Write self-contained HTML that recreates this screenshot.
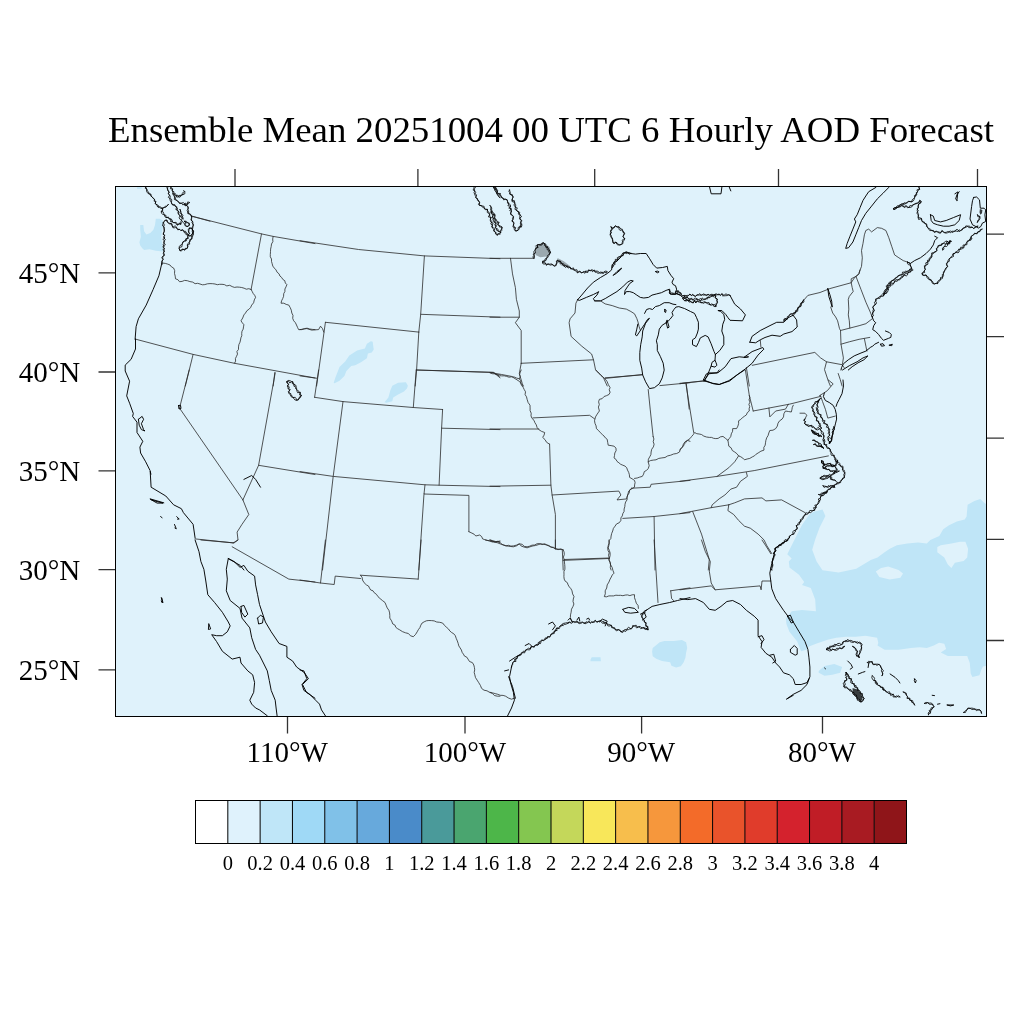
<!DOCTYPE html>
<html><head><meta charset="utf-8"><style>
html,body{margin:0;padding:0;background:#fff;width:1024px;height:1024px;overflow:hidden}
svg{display:block;will-change:transform}
text{font-family:"Liberation Serif",serif;fill:#000}
.t{font-size:36.8px}
.ll{font-size:29px;text-anchor:end}
.bl{font-size:29px;text-anchor:middle}
.cl{font-size:20.5px;text-anchor:middle}
</style></head><body>
<svg width="1024" height="1024" viewBox="0 0 1024 1024">
<rect x="0" y="0" width="1024" height="1024" fill="#fff"/>
<text x="108" y="141.6" class="t" textLength="886" lengthAdjust="spacingAndGlyphs">Ensemble Mean 20251004 00 UTC 6 Hourly AOD Forecast</text>
<defs><clipPath id="mc"><rect x="115.5" y="186.5" width="871" height="530"/></clipPath></defs>
<rect x="115.5" y="186.5" width="871" height="530" fill="#dff2fb"/>
<g clip-path="url(#mc)"><path d="M140.2 225.1 L143.3 225.1 L144.1 231.3 L146.4 234.4 L150.3 232.9 L153.4 229.8 L155.0 225.1 L155.8 218.8 L159.7 218.8 L162.8 220.4 L163.2 225.1 L162.0 231.3 L161.2 236.8 L162.0 242.2 L162.8 247.7 L162.8 251.6 L155.8 250.8 L149.5 249.3 L144.1 250.1 L142.5 248.5 L140.2 245.4 L139.4 242.2 L140.9 236.8 L140.2 229.8Z M137.0 187.2 L141.7 187.2 L141.7 188.7 L137.0 188.7Z M333.7 382.7 L335.6 376.9 L339.5 367.1 L345.4 361.2 L349.3 355.4 L357.1 350.5 L364.9 348.6 L366.9 343.7 L370.8 341.2 L372.7 341.7 L373.7 349.5 L371.8 352.5 L367.9 353.4 L366.9 358.3 L361.0 362.2 L355.2 365.2 L351.2 366.1 L346.4 371.0 L344.4 375.9 L339.5 380.8 L334.6 383.2Z M384.5 402.3 L388.4 397.4 L390.3 390.5 L392.3 385.7 L398.1 382.7 L405.9 382.2 L407.9 385.7 L406.9 388.6 L404.0 391.5 L398.1 394.5 L393.2 397.4 L392.3 401.3 L386.4 402.8Z M652.7 648.1 L659.7 642.3 L664.4 641.1 L673.8 641.1 L682.0 639.9 L686.1 642.3 L687.2 648.1 L686.1 652.8 L685.5 657.5 L683.7 662.2 L680.8 666.3 L676.1 667.5 L671.4 665.7 L670.2 662.2 L662.0 661.0 L656.2 658.7 L652.7 656.3 L652.1 651.6Z M590.5 659.8 L591.7 657.3 L600.5 657.3 L600.9 661.3 L590.5 661.3Z M818.7 670.9 L824.5 666.0 L834.3 664.0 L842.1 667.0 L840.2 672.8 L832.3 674.8 L824.5 675.7 L818.7 672.8Z M813.7 511.7 L822.5 509.5 L825.4 516.1 L819.5 527.8 L815.2 539.5 L812.2 549.8 L816.6 561.5 L822.5 570.3 L838.6 572.5 L856.2 568.8 L870.8 560.1 L877.5 557.6 L884.6 552.3 L889.8 548.8 L896.9 545.3 L907.4 543.5 L918.0 542.6 L926.8 543.5 L930.3 540.0 L939.3 536.0 L943.2 529.2 L949.0 525.3 L956.8 521.4 L964.7 519.4 L966.6 516.5 L967.6 504.8 L974.4 500.9 L980.3 498.9 L984.2 502.8 L987.0 504.8 L987.0 665.7 L983.0 666.5 L981.2 670.1 L979.5 675.3 L972.4 677.1 L970.7 673.6 L969.8 663.0 L967.2 656.0 L958.4 656.0 L947.8 656.0 L940.8 652.5 L946.1 649.0 L944.3 643.7 L939.1 642.8 L933.8 645.4 L926.8 648.1 L919.7 647.2 L910.9 648.1 L898.6 649.8 L884.6 649.8 L877.5 645.4 L878.3 642.7 L877.1 637.7 L865.5 635.7 L855.8 636.7 L846.0 636.7 L836.3 637.7 L828.4 639.6 L816.7 643.5 L808.9 646.4 L807.0 649.4 L801.1 651.3 L797.2 641.6 L789.4 631.8 L786.4 624.0 L786.0 618.6 L791.7 611.3 L802.0 609.9 L815.9 611.3 L815.2 599.6 L810.8 587.9 L802.0 585.0 L804.2 582.0 L799.0 574.7 L789.5 567.4 L788.8 561.5 L791.7 558.6 L787.3 554.2 L794.6 539.5 L802.0 524.9 L809.3 514.6Z M875.8 571.6 L881.1 568.1 L888.1 566.4 L898.6 569.9 L903.0 573.4 L900.4 577.8 L889.8 579.5 L879.3 576.9Z M937.3 547.0 L940.8 545.3 L951.4 543.5 L960.1 541.8 L965.4 541.8 L968.1 548.8 L967.2 557.6 L963.7 561.1 L954.9 562.8 L951.4 568.1 L947.8 564.6 L944.3 557.6 L937.3 552.3Z" fill="#bfe5f7" fill-rule="evenodd"/><g fill="none" stroke-linejoin="round" stroke-linecap="round"><path stroke="#2a2a2a" stroke-width="0.8" d="M192.1 216.3 L261.5 233.9 L273.2 236.4 L315.0 243.6 M261.5 233.9 L251.1 289.5 M162.9 263.1 L165.3 263.4 L167.7 264.1 L170.0 265.0 L171.5 266.9 L173.6 268.0 L174.7 270.6 L174.5 273.4 L175.2 276.1 L175.5 278.8 L177.9 279.7 L179.5 281.7 L182.1 281.4 L184.6 280.4 L187.3 280.7 L189.9 281.6 L192.7 282.1 L195.1 283.7 L197.6 283.3 L200.0 284.0 L202.4 284.8 L204.8 284.6 L207.4 283.8 L210.0 283.6 L212.7 283.7 L215.0 284.0 L217.3 284.7 L219.7 284.3 L222.0 284.3 L224.4 284.6 L226.8 285.9 L229.7 285.3 L232.2 286.6 L234.5 287.4 L237.0 287.0 L239.4 287.2 L241.7 287.5 L244.1 288.2 L246.3 289.2 L248.8 288.7 L251.1 289.5 M251.1 289.5 L252.2 291.5 L253.2 293.5 L254.7 295.3 L255.6 297.3 L254.3 299.9 L253.6 302.8 L251.7 305.1 L250.6 307.5 L248.9 309.3 L246.8 310.8 L245.5 313.0 L243.9 314.9 L242.7 318.0 L241.0 320.8 L242.3 322.8 L243.9 324.7 L243.5 326.9 L243.2 329.1 L242.0 331.2 L241.7 333.4 L241.8 335.7 L240.9 337.8 L240.5 340.0 L240.0 342.2 L238.9 344.5 L238.5 346.9 L238.5 349.4 L236.9 351.5 L237.5 354.1 L236.5 356.3 L235.4 358.6 L235.6 361.1 L234.5 363.3 M273.2 236.4 L272.7 238.9 L272.9 241.6 L271.5 244.0 L271.2 246.5 L270.6 249.1 L270.5 251.7 L270.3 254.4 L270.3 256.8 L271.5 259.0 L271.5 261.4 L272.2 263.8 L272.8 266.1 L274.3 268.1 L276.0 269.9 L277.1 272.2 L279.1 273.9 L279.9 276.0 L281.7 277.5 L282.8 279.4 L284.8 280.7 L285.3 283.0 L286.9 284.6 L286.0 286.9 L284.9 289.0 L284.9 291.5 L283.7 293.7 L283.6 296.3 L282.7 298.6 L281.6 300.8 L281.0 303.2 L283.8 303.2 L286.2 304.4 L288.8 305.1 L290.2 307.6 L291.3 310.2 L291.8 313.0 L293.0 315.4 L292.7 318.3 L293.7 320.8 L295.4 322.7 L296.5 325.0 L297.5 327.3 L298.6 329.6 L301.6 329.6 L304.5 328.6 L307.1 328.2 L309.7 329.0 L312.4 329.4 L315.0 329.6 M136.1 339.3 L193.1 354.4 L234.5 363.3 L315.0 378.0 M193.1 354.4 L185.3 386.0 M274.8 372.5 L273.2 386.0 M191.7 216.1 L210.0 221.2 M300.0 240.7 L358.6 249.5 L424.4 255.9 L500.0 258.7 M424.4 255.9 L420.7 314.3 L418.8 332.1 M420.7 314.3 L500.0 317.2 M325.4 322.3 L418.8 332.1 M418.8 332.1 L416.6 370.0 L415.2 386.0 M416.6 370.0 L493.4 372.5 L500.0 376.4 M325.4 322.3 L316.6 386.0 M300.0 329.6 L306.8 328.6 L311.7 330.1 L318.6 329.6 L320.5 326.2 L322.5 328.6 L323.8 332.1 M490.0 258.3 L533.9 258.3 M577.9 299.3 L575.9 303.2 L575.0 313.0 L570.1 318.8 L569.1 322.7 L571.1 336.4 L581.8 346.2 L591.6 354.0 L593.5 359.8 L595.5 369.6 L603.3 377.4 L607.2 386.0 M510.5 258.3 L512.5 273.9 L515.4 287.6 L516.4 299.3 L519.3 311.0 L519.3 317.2 L515.4 322.7 L521.2 330.5 L521.2 363.3 M490.0 317.2 L519.3 317.2 M521.2 363.3 L593.5 359.8 M521.2 363.3 L519.3 373.5 L522.2 383.3 L523.2 386.0 M490.0 372.5 L501.7 374.5 L511.5 376.4 L519.3 381.3 L523.2 386.0 M605.2 378.4 L642.3 374.5 M189.2 370.0 L179.5 408.1 L242.9 499.9 M275.2 372.9 L258.6 465.3 L242.9 499.9 M258.6 465.3 L315.0 474.5 M195.1 538.9 L233.2 542.9 M242.9 499.9 L248.8 514.5 L242.0 524.3 L237.1 532.1 L238.0 539.9 L233.2 542.9 M680.0 383.3 L705.4 380.9 M752.3 365.3 L814.8 352.4 L820.6 357.9 L826.5 361.8 L824.5 369.6 L828.4 381.3 L830.4 386.0 M746.4 367.6 L749.3 386.0 M826.5 361.8 L842.1 364.7 L844.1 367.6 M838.2 373.5 L840.2 379.4 L842.1 386.0 M318.6 370.0 L314.6 397.3 M300.0 375.9 L316.6 378.2 M314.6 397.3 L343.0 401.6 L413.3 407.5 L442.6 409.5 M343.0 401.6 L333.2 476.4 L322.5 570.0 M416.2 370.0 L413.3 407.5 M442.6 409.5 L441.6 428.2 L500.0 429.6 M441.6 428.2 L439.1 485.2 M300.0 471.6 L333.2 476.4 L425.0 484.8 L439.1 485.2 L500.0 486.6 M468.9 531.7 L471.9 533.1 L474.1 534.2 L475.8 536.0 L479.7 535.0 L481.7 536.6 L482.6 538.9 L484.9 539.7 L487.1 540.4 L489.5 540.9 L492.3 542.0 L495.3 541.9 L497.7 541.3 L500.0 541.9 M425.0 484.8 L424.0 494.0 L468.9 495.4 L468.9 531.7 M424.0 494.0 L418.8 570.0 M416.2 370.0 L493.4 372.3 L500.0 377.8 M490.0 372.9 L492.3 373.7 L494.7 373.9 L497.0 374.7 L499.5 374.8 L501.7 375.9 L504.2 375.8 L506.6 376.4 L509.0 377.2 L511.5 376.8 L514.2 377.0 L516.7 378.1 L519.3 378.8 M521.2 370.0 L520.3 372.1 L519.6 374.3 L520.2 376.7 L519.3 378.8 L520.7 380.7 L520.7 383.3 L521.6 385.5 L523.2 387.4 L524.2 389.5 L525.5 391.8 L525.1 394.6 L526.5 396.8 L527.1 399.3 L528.1 402.5 L530.0 405.2 L530.1 407.9 L530.1 410.6 L531.2 413.2 L531.0 415.9 L532.0 418.4 L534.0 420.3 L534.9 422.7 L536.3 424.9 L537.1 427.5 L538.8 429.6 L541.6 431.4 L544.7 432.5 L544.1 435.1 L542.7 437.4 L545.0 439.6 L546.6 442.3 L549.6 444.2 M533.0 417.9 L589.6 415.3 L594.5 418.8 M490.0 429.0 L538.8 429.0 M490.0 486.2 L550.9 485.2 M552.1 495.0 L618.9 491.1 L620.9 495.0 L617.0 499.9 L626.7 498.9 L628.7 491.1 L631.6 488.2 M595.5 370.0 L597.5 371.9 L599.4 373.9 L600.9 375.5 L602.6 376.9 L604.4 378.2 L605.9 379.9 L607.2 381.7 L608.4 384.8 L610.1 387.6 L609.2 389.8 L610.1 392.2 L609.1 394.4 L606.7 395.6 L604.1 396.5 L602.1 398.7 L599.4 399.3 L598.6 401.8 L599.3 404.6 L598.4 407.1 L599.4 411.0 L598.0 412.9 L596.7 414.9 L595.5 416.9 L594.5 420.8 L595.0 423.4 L596.1 425.9 L596.4 428.6 L598.5 430.5 L600.3 432.6 L602.3 434.5 L604.0 436.0 L605.4 437.9 L607.2 439.3 L607.7 442.3 L608.2 445.2 L611.1 445.6 L614.0 446.2 L616.0 448.1 L616.1 450.7 L614.8 453.0 L614.5 455.5 L614.0 457.9 L615.9 459.3 L617.0 461.4 L618.9 462.8 L620.7 464.3 L622.8 465.2 L625.0 466.1 L626.7 467.7 L627.5 470.1 L628.7 472.4 L629.4 474.8 L629.6 477.4 L632.1 478.8 L634.5 480.4 L635.1 482.6 L634.6 484.9 L634.5 487.2 L632.1 488.6 L629.6 490.1 L629.3 492.8 L627.7 495.0 L626.9 497.3 L627.1 499.8 L625.6 502.0 L625.0 504.3 L624.8 506.7 L624.1 509.0 L624.1 511.4 L622.8 513.6 L622.3 515.9 L620.9 517.9 L620.9 520.4 L619.3 522.7 L616.6 523.9 L615.0 526.2 L613.4 528.4 L612.7 531.0 L611.7 533.4 L611.1 536.0 L610.8 538.6 L609.0 540.7 L608.9 543.3 L608.2 545.8 L607.7 548.2 L608.0 550.5 L609.2 552.8 L608.5 555.2 L609.1 557.5 L608.9 560.1 L610.5 562.4 L610.5 565.0 L610.3 567.6 L611.1 570.0 M605.2 377.8 L642.3 374.9 M659.9 385.6 L690.0 382.7 M653.1 436.4 L653.9 439.0 L653.2 441.7 L654.1 444.2 L653.4 446.9 L651.7 449.3 L651.1 452.0 L650.9 454.6 L649.7 456.9 L648.4 459.2 L648.2 461.8 L649.2 465.7 L648.2 468.6 L646.5 470.4 L644.3 471.6 L643.6 474.1 L642.3 476.4 L639.7 477.1 L637.2 478.0 L634.5 478.4 M648.2 461.8 L650.7 460.5 L653.3 460.1 L656.0 459.8 L658.8 458.4 L661.9 457.9 L665.0 457.5 L667.7 455.9 L670.7 455.2 L673.6 454.0 L676.7 453.5 L679.5 452.0 L680.3 449.2 L682.4 447.0 L683.4 444.2 L684.9 441.9 L687.3 440.3 L690.0 441.3 M631.6 488.2 L650.2 487.2 L651.1 484.3 L690.0 480.4 M622.8 518.4 L654.1 516.5 L690.0 512.6 M654.1 516.5 L655.0 570.0 M555.4 548.7 L562.3 549.7 L563.2 570.0 M563.2 560.4 L609.1 558.5 M490.0 539.9 L492.6 540.6 L495.2 541.4 L497.8 541.9 L500.5 543.0 L502.8 544.9 L505.6 545.8 L508.2 546.2 L510.8 546.5 L513.4 546.8 L516.6 545.8 L519.3 543.8 L522.1 544.3 L524.3 546.4 L527.1 546.8 L529.6 546.2 L531.9 545.2 L534.6 545.0 L536.9 543.8 L539.5 543.5 L542.1 544.5 L544.7 543.8 L546.8 544.9 L549.1 545.6 L551.0 547.1 L553.3 547.7 L555.4 548.7 M686.3 383.7 L689.2 409.1 M549.6 444.2 L550.9 485.2 L552.1 495.0 L555.4 514.5 L555.4 548.7 M648.2 389.5 L650.2 409.1 L653.1 436.4 M680.0 383.7 L704.4 380.7 M685.9 383.7 L693.7 432.5 M745.4 370.0 L749.3 395.4 L753.2 411.0 M753.2 411.0 L789.4 404.2 L820.6 396.4 M749.3 395.4 L749.8 397.6 L749.0 399.9 L750.0 402.1 L748.9 404.3 L749.7 406.6 L749.1 408.8 L749.3 411.0 L747.3 412.6 L746.4 414.9 L744.4 416.3 L742.4 417.7 L740.7 419.5 L738.6 420.8 L738.6 423.6 L737.9 426.1 L736.6 428.6 L732.7 428.6 L732.6 431.3 L731.3 433.8 L730.8 436.4 L729.4 438.4 L727.9 440.3 L725.4 438.3 L723.0 436.4 L720.3 436.9 L718.1 438.4 L715.8 438.6 L713.6 438.3 L711.5 437.4 L709.3 437.4 L706.5 437.0 L703.8 436.1 L701.5 434.5 L699.1 434.0 L696.8 433.7 L694.6 432.5 L693.3 434.6 L691.7 436.4 L690.0 438.6 L687.7 440.2 L685.9 442.3 L684.3 444.1 L683.3 446.4 L681.3 448.0 L680.0 450.1 M727.9 440.3 L728.4 443.2 L728.8 446.2 L731.1 447.8 L732.3 450.5 L734.7 452.0 L736.9 453.7 L738.6 455.9 L740.8 456.8 L742.8 458.1 L744.5 459.8 L747.1 459.0 L749.8 458.4 L752.3 456.9 L754.4 455.9 L756.1 454.2 L758.1 453.0 L760.9 451.2 L764.0 450.1 L763.8 447.5 L765.2 445.2 L765.5 442.8 L765.9 440.3 L766.7 437.8 L768.1 435.5 L768.8 433.0 L769.8 430.5 L773.0 430.2 L775.7 428.6 L777.3 426.1 L778.0 423.2 L779.6 420.8 L782.0 419.2 L783.5 416.9 L783.9 413.7 L785.5 411.0 L788.4 411.5 L791.3 412.0 L791.9 409.7 L792.3 407.3 L793.3 405.2 M768.9 408.1 L769.8 416.9 L775.7 411.0 L785.5 409.1 L788.4 404.2 M738.6 455.9 L734.7 461.8 L728.8 467.7 L721.0 473.5 L717.1 476.4 M680.0 481.3 L717.1 476.4 L754.2 470.6 L828.4 455.9 M746.4 472.5 L747.4 476.4 L740.5 481.3 L736.6 487.2 L730.8 489.1 L724.9 495.0 L719.1 498.9 L712.2 504.8 L711.2 507.7 M680.0 513.6 L711.2 507.7 L728.8 504.8 M728.8 504.8 L734.7 502.8 L744.5 498.9 L762.0 497.9 L765.9 500.9 L781.6 499.9 L805.0 512.6 M728.8 504.8 L727.9 510.6 L733.7 514.5 L738.6 520.4 L744.5 526.2 L750.3 528.2 L758.1 534.1 L764.0 539.9 L766.9 545.8 L771.8 553.6 M692.7 511.6 L701.5 534.1 L709.3 559.5 L708.3 570.0 M232.2 546.8 L288.8 579.1 L315.0 582.0 M200.9 540.0 L234.1 542.9 L238.0 540.0 M325.4 540.0 L320.5 583.0 M300.0 580.0 L320.5 583.0 L334.2 584.5 L335.2 576.1 L360.5 578.5 M421.1 540.0 L418.2 579.1 M360.5 575.2 L418.2 579.1 M360.5 575.2 L362.1 577.4 L362.5 580.0 L364.1 582.7 L366.4 584.9 L368.5 586.0 L369.5 588.1 L370.7 590.0 L373.0 590.8 L374.2 592.7 L376.5 594.4 L378.0 596.7 L380.1 598.6 L382.5 600.6 L385.0 602.5 L386.1 605.2 L387.2 607.9 L388.9 610.3 L389.6 612.9 L389.8 615.5 L389.8 618.1 L391.6 620.9 L392.8 624.0 L394.9 625.0 L395.8 627.3 L397.6 628.7 L399.6 629.8 L402.4 631.6 L405.5 632.8 L408.4 633.5 L410.5 635.8 L413.3 636.7 L415.5 634.5 L417.2 631.8 L418.4 629.6 L419.9 627.6 L420.8 625.2 L422.1 623.0 L424.2 621.8 L426.4 620.8 L428.9 620.5 L431.6 620.6 L434.2 620.9 L436.7 622.0 L439.7 622.3 L442.6 623.0 L444.3 625.2 L446.3 627.1 L448.4 628.9 L449.8 630.9 L451.6 632.5 L453.8 633.8 L455.3 635.7 L456.2 638.3 L457.3 640.9 L458.2 643.5 L458.8 645.9 L460.1 647.9 L461.4 650.0 L462.1 652.3 L463.4 654.1 L464.5 656.1 L466.8 657.2 L468.0 659.1 L469.5 661.5 L472.4 662.6 L473.8 665.0 L474.4 667.4 L474.7 669.8 L474.2 672.4 L474.8 674.8 L475.5 677.6 L477.1 680.1 L478.7 682.6 L480.4 685.4 L481.6 688.4 L484.0 690.2 L487.0 690.8 L489.5 692.3 L492.2 693.3 L494.4 695.5 L497.3 696.2 L500.0 696.2 M485.5 540.0 L495.3 542.0 L500.0 541.0 M490.0 540.0 L492.5 541.1 L495.1 542.2 L497.8 542.9 L500.7 544.1 L503.7 544.9 L506.0 545.8 L508.6 545.3 L510.9 546.1 L513.4 545.9 L516.5 545.1 L519.3 543.9 L520.9 545.8 L523.2 546.8 L527.1 547.8 L530.0 546.8 L533.0 545.9 L535.6 545.5 L538.2 544.7 L540.8 543.9 L543.5 544.3 L546.1 544.8 L548.6 545.9 L550.8 547.0 L553.4 547.3 L555.4 548.8 L558.0 549.7 L560.7 548.9 L563.2 549.8 M555.4 540.0 L555.4 548.8 M563.2 549.8 L564.1 552.1 L564.3 554.6 L563.4 557.1 L564.2 559.5 L564.4 562.0 L564.7 564.4 L564.9 566.9 L564.9 569.3 L563.9 571.7 L564.0 574.2 L563.9 576.6 L564.2 579.1 L565.2 581.2 L567.3 582.6 L568.1 584.9 L569.3 586.9 L570.9 588.7 L572.0 590.8 L572.6 593.9 L574.0 596.6 L573.3 599.0 L573.0 601.5 L573.9 604.0 L573.0 606.4 L571.5 609.2 L571.1 612.3 L570.5 614.9 L570.4 617.5 L571.1 620.1 M564.2 559.5 L609.1 558.0 M609.1 540.0 L609.4 542.7 L608.9 545.3 L608.2 547.8 L609.3 550.3 L610.1 552.9 L610.1 555.6 L609.1 559.5 L609.7 562.3 L610.7 564.9 L612.1 567.3 L612.9 570.3 L614.0 573.2 L612.3 574.9 L611.3 577.0 L610.1 579.1 L608.9 582.1 L607.2 584.9 L606.7 588.0 L605.2 590.8 L605.3 593.8 L604.3 596.6 L606.6 596.8 L608.9 595.9 L611.2 595.9 L613.6 595.9 L615.9 595.2 L618.2 595.4 L620.5 595.3 L622.9 595.7 L625.2 595.1 L627.5 594.9 L629.9 595.6 L632.2 594.8 L634.5 594.7 L634.5 597.7 L635.5 600.5 L636.3 603.2 L638.1 605.5 L638.4 608.4 M654.1 540.0 L658.0 602.5 M670.7 590.8 L671.6 598.6 L673.6 600.5 M670.7 590.8 L690.0 587.9 M490.0 692.3 L492.6 692.9 L495.2 693.6 L497.8 694.3 L500.3 695.3 L503.1 695.4 L505.6 696.2 L508.4 698.0 L511.5 699.2 L514.4 698.2 M701.5 540.0 L705.4 551.7 L710.3 561.5 L709.3 571.2 L711.2 583.0 L715.2 589.8 M680.0 589.8 L711.2 585.9 L715.2 589.8 L760.1 585.9 L761.1 589.8 L762.0 581.0 L770.8 581.0 M762.0 540.0 L765.9 545.9 L770.8 553.7 M594.6 300.9 L600.5 300.9 L605.2 303.9 L612.2 305.6 L619.2 308.0 L626.3 309.1 L630.9 311.5 L634.5 313.8 L636.8 318.5 L638.0 322.0 L639.1 326.7 L640.3 330.0 M793.3 315.9 L801.1 303.2 L807.9 295.4 L820.0 292.5 L829.8 288.6 L851.3 282.7 M851.5 282.2 L854.4 277.9 L858.7 273.6 L861.5 266.4 L862.3 257.8 L861.5 250.6 L863.0 243.4 L864.4 234.8 L865.8 230.5 L868.7 229.1 L871.6 231.9 L877.3 227.6 L881.6 228.3 L885.9 230.5 L888.8 237.7 L891.7 246.3 L894.6 254.9 L898.9 257.8 L903.2 260.6 L907.5 262.1 M830.7 307.1 L832.7 313.0 L835.6 316.9 L837.6 320.8 L839.5 328.6 L840.5 330.5 L841.0 344.2 L843.4 357.9 L842.5 363.8 M860.0 270.0 L859.1 273.9 L857.1 275.9 L855.2 276.8 L851.2 278.8 L851.2 282.7 L852.2 287.6 L853.2 291.5 L849.3 296.4 L848.3 299.3 L848.8 309.1 L848.3 314.9 L849.3 320.8 L849.8 328.1 M856.1 276.8 L861.0 289.5 L865.9 302.2 L869.8 311.0 L872.2 316.9 M840.5 330.5 L849.8 328.1 L859.1 325.7 L865.9 323.7 L872.2 318.8 M841.0 344.2 L849.3 341.8 L859.1 339.3 L869.8 337.4 M864.4 338.8 L865.9 346.2 L866.9 351.1 M819.5 395.6 L824.4 392.7 L827.3 390.7 L832.2 384.9 L833.2 383.9 L828.3 380.0 M820.5 395.6 L822.5 401.5 L825.4 409.3 L827.8 418.1 L835.2 416.1 M800.0 413.2 L804.9 413.2 L806.8 415.2 L804.9 419.1 M760.3 340.4 L760.9 346.9"/><path stroke="#000" stroke-width="0.95" d="M161.9 263.1 L158.9 275.8 L153.1 289.5 L146.2 305.1 L138.4 318.8 L136.1 326.6 L135.1 339.3 M150.2 471.6 L151.1 487.2 L165.8 496.0 L173.6 504.8 L181.4 508.7 L183.4 512.6 L193.1 524.3 L195.1 538.0 M243.9 479.4 L251.7 475.5 L255.6 479.4 L260.5 487.2 M150.2 498.9 L163.8 502.8 M228.3 558.5 L240.0 565.3 L243.9 570.0 M709.3 186.0 L711.2 193.8 L721.0 193.8 L722.0 186.0 M728.8 186.0 L730.8 190.9 M954.9 193.8 L957.9 191.9 L956.9 200.7 M703.4 379.8 L706.4 373.9 L708.3 372.9 L717.1 372.9 L719.1 370.0 M703.4 379.8 L713.2 383.7 L719.1 384.6 L728.8 380.7 L738.6 373.9 L744.5 370.0 M195.1 540.0 L199.0 551.7 L200.9 561.5 L203.9 569.3 L205.8 581.0 L207.8 594.7 L214.6 602.5 L222.4 612.3 L228.3 622.0 L230.2 625.9 L227.3 631.8 L222.4 635.7 L216.6 635.7 L211.7 634.7 L216.6 641.6 L222.4 651.3 L232.2 659.1 L240.0 657.2 L241.0 663.0 L247.8 670.9 L252.7 674.8 L254.6 682.6 L253.7 692.3 L249.8 700.2 L251.7 704.1 L255.6 708.0 L259.5 709.9 L267.3 715.8 M228.3 558.6 L226.3 569.3 L227.3 579.1 L226.3 590.8 L230.2 600.5 L240.0 608.4 L242.0 618.1 L249.8 627.9 L251.7 637.7 L255.6 649.4 L259.5 655.2 L263.4 663.0 L267.3 670.9 L269.3 680.6 L271.2 690.4 L275.2 700.2 L276.1 708.0 L277.1 715.8 M228.3 558.6 L234.1 561.5 L240.0 567.3 L243.9 565.4 L247.8 571.2 L254.6 576.1 L255.6 584.9 L257.6 594.7 L259.5 604.5 L265.4 622.0 L271.2 631.8 L279.1 643.5 L286.9 646.4 L286.9 657.2 L292.7 661.1 L296.6 667.0 L304.5 672.8 L308.4 678.7 L302.5 684.5 L306.4 692.3 L315.0 698.2 M257.6 618.1 L260.5 615.2 L263.4 617.1 L262.5 623.0 L258.6 624.0 L257.6 618.1 M241.0 606.4 L243.9 605.4 L247.8 614.2 L244.9 617.1 L241.6 612.3 L241.0 606.4 M161.9 598.2 L162.9 602.5 M208.8 624.0 L210.7 628.9 L208.4 629.5 L208.8 624.0 M300.0 669.9 L303.9 670.9 L306.8 678.7 L302.0 684.5 L303.9 690.4 L309.8 694.3 L315.6 700.2 L319.5 704.1 L321.5 709.9 L325.4 715.8 M622.8 609.3 L628.7 607.4 L634.5 608.4 L638.4 612.3 L630.6 613.2 L624.8 612.3 L622.8 609.3 M548.6 624.0 L552.5 622.0 L555.4 625.9 L552.5 629.8 M525.2 645.5 L529.1 643.5 L532.0 646.4 M509.5 661.1 L515.4 657.2 L519.3 655.2 M504.6 670.9 L508.6 669.9 M508.6 676.7 L512.5 686.5 L515.4 698.2 M599.4 622.0 L602.3 619.1 L607.2 621.1 L605.2 625.9 M568.1 620.1 L570.1 618.1 L572.0 621.1 M576.9 620.1 L578.9 617.1 L579.8 621.1 M586.7 619.1 L588.6 618.1 L589.6 620.1 M640.4 614.2 L644.3 612.3 L646.2 617.1 L642.3 620.1 M787.4 540.0 L781.6 543.9 L775.7 547.8 L773.8 555.6 L771.8 563.4 L769.8 573.2 L770.8 581.0 L771.8 588.8 L775.7 598.6 L783.5 610.3 L789.4 618.1 L793.3 622.0 L799.1 631.8 L805.0 641.6 L807.9 649.4 L808.9 657.2 L809.9 667.0 L809.9 676.7 L807.0 684.5 L801.1 690.4 L793.3 694.3 L786.4 699.2 L793.3 695.3 M680.0 598.6 L687.8 599.6 L695.6 598.6 L703.4 602.5 L709.3 609.3 L715.2 610.3 L721.0 606.4 L726.9 601.5 L732.7 600.5 L740.5 604.5 L746.4 610.3 L754.2 616.2 L758.1 620.1 L758.1 635.7 L762.0 641.6 L761.1 647.4 L765.9 653.3 L771.8 657.2 L775.7 663.0 L779.6 667.0 L783.5 672.8 L789.4 674.8 L793.3 678.7 L795.2 684.5 L801.1 684.5 L807.0 682.6 L808.9 678.7 M790.4 649.4 L794.3 645.5 L797.2 648.4 L797.2 654.3 L795.2 655.2 L790.4 652.3 L790.4 649.4 M787.4 616.2 L790.4 615.2 L793.3 622.0 L791.3 623.0 L787.4 616.2 M758.1 636.7 L762.0 635.7 L764.0 639.6 L761.1 643.5 M769.8 655.2 L773.8 654.3 L775.7 661.1 L772.8 663.0 M577.6 299.8 L581.7 295.1 L587.6 288.0 L593.4 282.2 L600.5 277.5 L607.5 273.4 L611.6 269.9 L612.2 264.6 L616.9 261.1 L621.6 256.4 L625.1 252.3 L630.9 253.5 L635.6 254.1 L640.3 253.5 L646.2 253.5 L649.7 258.8 L653.2 264.6 L656.7 268.1 L662.6 267.5 L667.3 266.4 L667.9 270.5 L670.8 275.2 L673.7 278.7 L672.0 282.2 L673.1 284.5 L675.5 285.7 L676.6 289.2 L675.5 292.7 L680.2 295.1 L682.5 297.4 L687.2 299.8 L690.0 300.9 M577.6 299.8 L579.4 300.4 L586.4 297.4 L593.4 294.5 L597.0 292.7 L598.7 291.6 L597.0 295.1 L593.4 298.6 L594.6 300.9 L600.5 300.9 L605.2 298.6 L611.0 295.1 L616.9 291.6 L622.7 286.9 L627.4 282.2 L630.9 280.4 L633.3 281.0 L629.8 283.4 L627.4 286.9 L625.1 290.4 L624.5 294.5 L626.3 291.6 L629.8 291.6 L633.3 292.7 L636.8 295.1 L640.3 297.4 L643.8 298.0 L648.5 297.4 L652.0 295.1 L656.7 293.9 L661.4 292.7 L666.1 290.4 L669.6 289.2 L670.2 293.9 L673.1 294.5 L676.6 293.9 L680.2 295.1 M613.4 275.2 L616.9 271.6 L621.6 268.1 L620.4 269.9 L616.3 273.4 L613.4 275.2 M655.6 271.6 L657.3 271.1 L659.1 271.9 L657.3 272.8 L655.6 271.6 M637.8 324.2 L636.8 329.1 L635.4 334.9 L636.8 335.9 L640.7 330.0 L644.6 324.2 L647.6 319.3 L649.5 318.3 L645.6 323.2 L642.7 331.0 L642.2 336.9 L640.7 344.7 L639.8 352.5 L639.8 360.3 L641.7 368.1 L642.7 375.0 L645.6 381.8 L649.5 388.6 L654.4 387.7 L659.3 383.8 L662.2 377.9 L664.2 370.1 L663.2 363.2 L660.3 356.4 L657.3 350.5 L657.3 344.7 L656.4 340.8 L658.3 334.9 L659.3 329.1 L662.2 325.2 L667.1 322.2 L670.0 319.3 L673.0 315.4 L672.0 312.5 L673.9 309.5 L675.9 307.1 L678.8 306.6 L684.7 308.6 L690.5 311.5 L694.5 313.4 L696.4 317.3 L698.4 322.2 L698.4 329.1 L697.4 333.0 L695.4 337.9 L692.5 339.8 L692.5 344.7 L696.4 346.6 L698.4 342.7 L700.3 337.9 L705.2 335.4 L708.1 336.9 L711.1 343.7 L714.0 351.5 L715.4 354.5 M644.6 313.4 L646.6 309.5 L649.5 308.6 L652.5 309.5 L655.4 306.6 L659.3 305.6 L664.2 302.7 L669.1 302.7 L673.0 304.2 L675.9 304.6 M667.1 320.3 L669.1 327.1 L667.6 328.1 L666.1 322.2 L667.1 320.3 M664.7 309.5 L666.1 310.0 L665.6 312.5 L664.7 312.0 L664.7 309.5 M715.4 354.5 L715.0 360.3 L712.0 362.3 L711.1 366.2 L715.0 367.1 L716.9 365.2 L715.9 362.3 L715.0 360.3 M711.1 366.2 L709.1 371.1 L707.1 375.9 L704.2 380.8 M715.4 354.5 L719.8 350.5 L723.8 344.7 L723.8 336.9 L721.8 331.0 L722.8 324.2 L724.7 319.3 L723.8 314.4 L720.8 311.5 L717.9 310.5 L721.8 310.5 L725.7 314.4 L727.7 317.3 L730.0 320.3 L742.5 320.8 L745.4 314.9 L740.5 309.0 L734.7 304.2 L730.0 295.4 M875.9 187.4 L868.7 191.7 L865.8 196.0 L863.0 200.4 L860.1 207.5 L857.2 214.7 L854.4 219.0 L855.8 221.9 L852.9 229.1 L850.0 236.2 L847.2 243.4 L845.7 248.4 L848.6 247.7 L852.9 242.0 L855.8 234.8 L858.7 227.6 L861.5 220.5 L865.8 213.3 L871.6 206.1 L877.3 198.9 L883.1 193.2 L888.8 187.4 M930.4 214.7 L933.3 216.1 L934.7 220.5 L940.5 221.9 L946.2 220.5 L953.4 217.6 L960.6 214.7 L959.2 220.5 L954.8 224.8 L949.1 226.2 L943.4 226.2 L937.6 224.8 L933.3 223.3 L931.2 220.5 L930.4 214.7 M973.7 197.4 L976.6 197.0 L979.5 199.9 L980.3 208.2 L984.1 208.2 L985.7 209.9 L984.9 214.8 L985.7 221.5 L982.4 223.1 L980.8 226.5 L978.3 228.1 L975.8 226.5 L972.5 224.8 L970.0 219.0 L971.6 206.5 L972.5 200.7 L973.7 197.4 M934.7 236.2 L937.6 237.7 L934.7 240.6 L933.3 244.9 L930.4 249.2 L926.1 253.5 L920.4 257.8 L914.6 260.6 L910.3 263.5 L907.5 262.1 M959.2 191.7 L957.0 194.6 L955.6 198.9 L957.0 200.4 M827.8 288.6 L829.8 294.4 L831.7 301.2 L832.2 307.1 L830.7 302.2 L828.8 296.4 L827.8 288.6 M872.2 316.9 L873.7 320.8 L875.7 322.7 L873.7 325.7 L872.7 329.6 L875.7 331.5 L878.6 334.5 L881.5 338.4 L883.5 340.3 L888.4 338.4 L890.8 337.4 L891.3 334.5 L889.3 332.5 L885.4 331.0 M878.6 342.3 L874.7 344.2 L872.7 346.2 L870.8 347.1 L865.9 351.1 L861.0 353.0 L854.2 355.9 L848.3 359.8 L843.4 363.8 L841.5 367.7 L841.0 370.0 M880.5 344.2 L883.0 343.7 L884.5 345.7 L881.5 346.2 L880.5 344.2 M889.3 345.2 L892.3 344.2 L891.8 345.7 L889.3 345.2 M842.5 370.0 L849.3 365.7 L857.1 361.8 L863.0 357.9 L867.9 355.9 L863.9 359.8 L858.1 362.8 L852.2 366.7 L848.3 370.0 M843.0 380.0 L843.5 385.9 L842.0 393.7 L839.1 399.5 L837.1 403.4 L836.1 406.4 M824.4 392.7 L823.4 396.6 L825.4 400.5 L829.3 402.5 L833.2 405.4 L835.2 409.3 L836.3 414.2 L836.6 419.1 L835.4 423.9 L834.2 428.8 L832.4 434.7 L831.2 440.5 L829.8 443.5 M178.5 405.5 L180.5 405.3 L181.0 408.5 L179.0 409.0 L178.5 405.5 M507.6 715.8 L511.5 708.0 L514.4 700.2 L513.4 692.3 L510.5 682.6 L509.5 676.7 L511.5 667.0 M646.2 610.3 L652.1 606.4 L659.9 604.5 L669.7 602.5 L677.5 600.5 L690.0 597.6 M150.7 499.5 L156.0 501.3 L163.1 503.1 L157.1 503.1 L150.7 499.5 M160.6 516.6 L162.1 517.7 M176.7 516.6 L179.2 519.1 L177.4 519.1 M174.5 524.5 L176.3 528.8 L174.9 528.0 M161.3 597.6 L162.4 602.9 L161.3 601.1 M847.7 661.0 L851.0 664.3 L852.6 667.5 L850.2 669.2 M868.9 662.6 L868.1 667.5 M858.3 674.0 L862.4 672.4 L864.9 671.6 M890.1 674.0 L895.0 677.3 L898.3 680.6 L899.9 683.0 M914.6 678.9 L916.2 680.6 L915.4 683.0 L914.3 680.6 L914.6 678.9 M947.2 705.0 L953.8 705.0 L950.5 705.9 L947.2 705.0 M932.2 695.3 L934.5 695.6 M824.6 668.0 L825.5 668.8 M937.5 704.2 L939.9 703.7 M135.5 338.8 L135.5 349.0 L131.1 359.3 L125.2 365.1 L125.2 371.0 L129.6 381.2 L126.7 395.9 L129.6 403.2 L133.3 413.5 L132.6 416.4 L137.0 422.2 L137.0 432.5 L142.8 441.3 L139.9 447.1 L140.6 453.0 L145.7 461.8 L150.1 470.6 L150.9 474.2 M138.4 419.3 L142.1 416.4 L143.6 419.3 L141.4 423.7 L143.6 429.6 L145.0 431.0 L141.4 429.6 L139.2 425.2 L138.4 419.3 M704.1 380.9 L708.8 373.8 L718.1 372.7 L725.2 366.8 L731.0 358.6 L739.2 356.8 L745.1 357.4 L748.6 356.8 L743.9 357.4 L752.1 351.6 L762.7 347.5 L763.8 349.2 L758.0 355.1 L752.1 363.3 L745.1 369.1 L736.9 375.0 L729.8 380.9 L719.3 384.4 L712.3 383.2 L704.1 380.9 M749.8 342.2 L752.1 336.3 L760.3 330.5 L772.0 324.6 L776.7 322.3 L783.8 322.3 L788.4 317.6 L793.1 315.2 L796.6 319.9 L797.2 327.0 L792.0 331.6 L783.8 334.0 L780.2 336.3 L772.0 335.2 L765.0 337.5 L760.3 339.8 L755.6 342.8 L749.8 342.2"/><path stroke="#000" stroke-width="0.8" d="M145.6 186.8 L145.3 188.4 L146.8 189.1 L146.6 191.0 L147.2 192.6 L148.8 193.8 L150.4 194.5 L151.1 196.2 L152.4 197.2 L153.4 198.5 L154.5 199.3 L154.1 201.2 L155.8 201.6 L155.2 203.6 L157.0 204.8 L158.4 205.5 L158.1 207.1 L159.7 206.6 L160.9 207.2 L162.0 208.3 L164.4 207.5 L165.2 206.2 L166.7 206.3 L168.3 204.4 M145.6 186.8 L146.2 187.9 L146.8 189.1 L147.2 190.8 L148.7 192.0 L148.8 193.8 L150.9 194.0 L151.1 196.2 L152.4 197.2 L153.4 198.5 L154.5 199.3 L154.9 200.7 L155.8 201.6 L155.2 203.6 L157.0 204.8 L157.1 206.2 L158.1 207.1 L159.4 207.5 L160.6 208.2 L162.0 208.3 L164.4 207.5 L165.8 207.3 L166.7 206.3 L168.3 204.4 M162.0 208.3 L162.9 210.1 L161.2 211.4 L161.5 213.3 L162.7 214.3 L164.4 214.9 L164.9 216.7 L166.2 217.5 L168.1 217.6 L169.1 218.8 L170.4 219.6 L172.1 219.9 L172.3 222.0 L173.8 222.7 L175.7 222.4 L177.0 223.2 L177.7 225.1 L179.0 223.9 L180.8 224.3 L180.1 222.8 L180.9 221.6 L181.6 220.4 L179.9 219.2 L179.2 217.7 L180.0 215.7 L178.6 214.4 L177.9 212.9 L178.4 211.0 L177.3 210.0 L175.8 209.4 L177.0 206.9 L175.3 206.3 L174.6 205.1 L172.7 205.1 L171.9 203.9 L171.4 202.4 L170.5 201.3 L170.0 199.9 L169.8 198.5 L168.3 197.3 L169.7 195.1 L168.3 193.8 L169.4 192.0 L167.7 190.7 L167.5 189.1 L167.7 187.6 L167.9 186.0 M162.0 208.3 L162.8 210.1 L161.2 211.4 L163.1 211.8 L163.7 213.4 L164.4 214.9 L166.0 215.4 L166.1 217.6 L168.5 217.1 L169.1 218.8 L171.1 218.8 L170.6 221.7 L172.5 221.8 L173.8 222.7 L175.6 222.7 L176.3 224.4 L177.7 225.1 L178.9 223.4 L180.8 224.3 L181.1 223.0 L182.6 221.9 L181.6 220.4 L182.0 218.5 L181.0 217.1 L180.0 215.7 L178.8 214.3 L178.6 212.7 L178.4 211.0 L176.9 210.3 L177.5 208.2 L176.2 207.4 L175.3 206.3 L174.9 204.8 L173.0 204.7 L171.8 203.9 L171.4 202.4 L171.7 200.8 L171.6 199.3 L169.8 198.5 L170.3 196.6 L169.6 195.1 L168.3 193.8 L168.9 192.1 L168.4 190.6 L167.5 189.1 L166.9 187.5 L167.9 186.0 M169.8 186.0 L170.4 187.2 L171.4 188.2 L172.8 188.9 L172.2 190.7 L174.0 191.8 L173.8 193.6 L173.8 195.4 L174.9 196.2 L174.4 198.0 L174.4 199.5 L176.1 200.1 L177.3 200.7 L178.4 201.6 L179.5 203.5 L181.6 203.2 L182.8 204.9 L184.7 204.0 L185.2 205.8 L187.0 205.5 L187.7 206.8 L188.3 208.0 L187.8 209.4 L188.6 210.7 L188.7 212.0 L187.8 213.3 L189.7 213.4 L190.9 214.9 L191.7 217.2 L191.6 218.6 L191.1 220.1 L192.5 221.2 L191.8 222.6 L193.1 223.7 L193.3 225.1 L192.6 226.6 L191.9 228.0 L192.5 229.8 L193.9 231.1 L192.6 232.9 L193.3 234.4 L191.7 235.6 L191.5 237.3 L191.7 239.1 L190.4 239.7 L190.2 241.2 L189.4 242.2 L189.7 244.1 L187.6 245.1 L187.8 246.9 L187.1 248.3 L185.1 248.4 L184.7 250.1 L182.9 249.0 L181.6 250.9 L180.0 250.8 L179.2 248.5 L179.8 247.2 L181.8 246.9 L182.1 245.3 L182.3 243.8 L183.1 242.0 L184.3 240.9 L186.2 240.7 L185.9 239.0 L188.3 238.5 L187.8 236.8 L188.1 235.2 L185.9 234.5 L186.2 232.9 L185.6 231.3 L183.9 231.3 L182.7 229.6 L180.8 230.5 L179.7 229.4 L178.0 229.3 L176.9 228.2 L175.8 227.5 L174.1 227.9 L172.8 227.6 L172.2 225.8 L171.7 223.8 L169.8 223.4 L168.3 222.7 L167.3 221.9 L166.9 220.2 L165.2 220.4 L163.6 221.9 L163.8 223.3 L162.6 224.7 L162.7 226.0 L164.4 227.4 L164.3 228.8 L164.2 230.1 L164.3 231.5 L163.6 232.9 L163.4 234.2 L164.4 235.4 L164.0 236.8 L164.9 238.0 L162.8 239.4 L164.4 240.7 L164.2 242.0 L163.9 243.3 L163.0 244.7 L164.5 245.9 L163.1 247.3 L164.4 248.5 L164.1 249.8 L163.8 251.1 L163.6 252.4 L163.3 253.7 L164.4 255.3 L162.8 256.3 L162.7 257.9 L163.2 259.6 L162.0 261.0 L161.9 263.3 L162.0 264.1 M169.8 186.0 L171.7 186.6 L170.3 188.7 L172.4 189.1 L172.2 190.7 L172.8 192.2 L172.6 194.0 L173.8 195.4 L174.2 196.6 L175.4 197.5 L175.5 198.9 L176.1 200.1 L177.2 201.0 L178.4 201.6 L179.6 203.1 L181.6 203.2 L183.4 202.5 L184.7 204.0 L185.8 204.9 L187.0 205.5 L188.0 206.7 L188.2 208.0 L187.8 209.4 L187.1 210.7 L187.8 212.0 L187.8 213.3 L189.3 214.3 L190.9 214.9 L191.7 217.2 L191.3 218.7 L191.1 220.1 L192.5 221.2 L192.9 222.4 L192.7 223.8 L193.3 225.1 L193.0 226.6 L192.7 228.2 L192.5 229.8 L192.2 231.4 L193.2 232.9 L193.3 234.4 L192.7 236.0 L192.3 237.6 L191.7 239.1 L189.9 239.4 L189.7 240.9 L189.4 242.2 L187.9 243.5 L187.2 245.0 L187.8 246.9 L187.2 248.5 L185.6 248.9 L184.7 250.1 L182.9 249.1 L181.4 249.6 L180.0 250.8 L179.2 248.5 L179.2 246.8 L179.9 245.6 L181.4 244.9 L182.3 243.8 L182.9 241.8 L184.5 241.2 L186.2 240.7 L185.7 238.9 L187.7 238.3 L187.8 236.8 L188.0 235.2 L187.8 233.8 L186.2 232.9 L184.5 232.9 L183.9 231.3 L182.5 230.3 L180.8 230.5 L179.7 229.4 L177.7 229.8 L176.9 228.2 L176.2 226.6 L175.1 225.8 L173.0 227.1 L172.2 225.8 L171.7 223.8 L169.4 224.0 L168.3 222.7 L167.2 222.0 L167.0 220.1 L165.2 220.4 L163.6 221.9 L162.7 223.3 L164.5 224.7 L163.8 226.0 L163.6 227.4 L164.0 228.8 L164.4 230.1 L164.1 231.5 L163.6 232.9 L163.0 234.2 L165.1 235.4 L163.6 236.8 L164.0 238.1 L165.3 239.3 L164.5 240.7 L163.7 242.0 L164.1 243.3 L165.4 244.5 L162.9 246.0 L163.5 247.2 L164.4 248.5 L162.8 249.5 L164.9 251.3 L163.6 252.4 L164.0 253.8 L164.3 255.3 L162.8 256.3 L161.8 257.7 L162.9 259.5 L162.0 261.0 L161.9 263.3 L162.0 264.1 M173.8 193.8 L175.5 193.7 L176.2 195.2 L176.6 197.1 L178.4 196.9 L180.0 197.2 L180.5 195.2 L181.5 194.3 L183.1 194.6 L185.0 193.6 L184.7 191.5 L183.9 190.7 M173.8 193.8 L174.8 194.8 L175.8 195.8 L177.9 195.2 L178.4 196.9 L179.1 195.2 L181.0 196.2 L181.9 195.0 L183.1 194.6 L182.8 192.5 L184.7 191.5 L183.9 190.7 M184.7 204.8 L186.4 205.3 L187.2 203.9 L188.6 203.7 L189.4 202.4 M184.7 204.8 L185.3 203.1 L187.5 204.5 L187.7 201.9 L189.4 202.4 M184.7 221.2 L185.8 222.8 L187.8 222.7 L188.7 223.8 L189.4 225.1 L188.5 226.2 L187.0 226.6 L186.0 225.3 L184.7 224.3 L185.9 222.7 L184.7 221.2 M184.7 221.2 L186.5 221.4 L187.8 222.7 L189.5 223.3 L189.4 225.1 L188.2 225.8 L187.0 226.6 L185.3 226.0 L184.7 224.3 L183.6 222.7 L184.7 221.2 M189.4 228.2 L191.4 228.1 L192.5 229.8 L193.5 231.5 L192.8 233.0 L191.7 234.4 L190.8 235.7 L189.4 236.0 L188.6 234.8 L189.6 233.3 L188.6 232.1 L188.3 230.7 L189.1 229.5 L189.4 228.2 M189.4 228.2 L191.3 228.2 L192.5 229.8 L192.7 231.4 L193.3 233.1 L191.7 234.4 L190.9 235.8 L189.4 236.0 L187.8 235.0 L189.5 233.3 L188.6 232.1 L189.0 230.8 L188.3 229.3 L189.4 228.2 M180.0 209.4 L180.6 211.0 L179.9 212.9 L181.6 214.1 L183.1 215.3 L181.8 217.5 L183.1 218.8 M180.0 209.4 L180.7 210.9 L181.1 212.6 L181.6 214.1 L181.2 216.0 L182.9 217.2 L183.1 218.8 M473.8 186.0 L474.0 187.3 L473.7 188.7 L473.1 190.1 L475.1 191.1 L474.0 192.7 L474.6 193.9 L475.0 195.2 L475.8 196.4 L475.8 197.7 L476.8 198.8 L478.2 199.8 L478.7 201.2 L479.5 202.4 L478.4 204.5 L479.7 205.5 L481.3 205.6 L482.7 206.0 L484.1 206.4 L484.5 209.0 L485.7 209.7 L487.5 209.4 L487.5 211.0 L488.9 212.1 L489.4 213.4 L489.7 214.9 L489.7 216.4 L490.9 217.5 L490.4 219.2 L491.1 220.6 L492.0 221.9 L490.7 224.0 L492.4 225.1 L491.8 227.0 L493.4 227.8 L494.8 228.9 L493.5 231.0 L495.3 231.9 L496.7 233.3 L497.3 235.2 L498.5 234.2 L500.0 233.9 M473.8 186.0 L475.4 187.1 L474.6 188.5 L474.5 189.9 L474.7 191.2 L475.7 192.4 L475.1 193.8 L476.7 194.9 L476.2 196.3 L475.8 197.7 L477.5 198.5 L477.3 200.2 L478.9 201.1 L479.6 202.3 L479.5 204.0 L479.7 205.5 L481.3 205.5 L482.2 207.0 L483.6 207.6 L484.6 208.8 L486.0 209.2 L487.5 209.4 L487.3 211.0 L487.3 212.5 L489.1 213.5 L489.6 214.9 L488.3 216.8 L491.0 217.5 L490.4 219.2 L490.3 220.9 L491.0 222.3 L493.1 223.2 L492.4 225.1 L492.1 226.8 L492.5 228.2 L493.8 229.3 L494.1 230.8 L495.3 231.9 L495.5 234.0 L497.3 235.2 L498.2 233.6 L500.0 233.9 M493.4 186.0 L494.0 187.2 L494.7 188.3 L494.5 190.0 L495.3 191.1 L495.9 192.3 L497.1 193.1 L497.1 194.7 L498.2 195.6 L498.9 196.8 L500.0 197.7 M493.4 186.0 L494.7 186.8 L495.8 187.7 L496.2 189.0 L496.4 190.5 L497.6 191.3 L496.5 193.5 L497.9 194.3 L498.4 195.6 L499.0 196.7 L500.0 197.7 M533.9 258.3 L534.6 257.0 L534.2 255.7 L533.1 254.2 L535.4 253.2 L535.4 251.8 L534.9 250.5 L535.7 249.3 L536.6 248.2 L537.6 247.2 L537.0 245.1 L538.8 244.6 L540.4 245.0 L541.6 243.4 L543.0 242.7 L544.7 243.6 L546.0 244.4 L545.6 246.2 L547.6 246.5 L547.1 248.4 L547.2 249.8 L549.1 250.2 L550.1 251.1 L550.5 252.4 L549.8 253.6 L548.6 254.5 L547.6 255.5 L547.1 256.9 L546.6 258.3 L545.1 258.9 L544.7 261.2 L542.7 261.2 L542.7 263.1 L544.3 262.5 L545.5 263.1 L546.5 264.8 L548.1 263.9 L549.2 265.0 L550.9 263.8 L552.1 264.2 L553.3 265.1 L554.5 266.1 L555.5 265.1 L556.1 264.0 L556.7 262.8 L556.3 261.1 L557.4 260.2 L558.8 260.8 L560.3 261.2 L561.4 262.4 L562.3 263.6 L564.1 264.2 L564.2 266.1 L565.5 267.4 L567.3 265.7 L568.4 268.1 L570.1 267.1 L570.6 269.0 L573.5 267.9 L574.0 270.0 L575.3 270.4 L576.3 271.8 L577.4 272.7 L579.2 271.8 L580.7 271.8 L581.8 272.9 L583.0 271.7 L584.9 273.3 L585.7 270.9 L587.4 271.5 L588.5 269.9 L590.2 270.5 L591.6 270.0 L592.4 271.7 L594.5 270.0 L595.2 272.3 L596.8 272.0 L597.7 273.4 L599.4 272.9 L600.7 273.3 L601.9 271.8 L603.4 273.5 L604.6 272.2 L605.7 270.8 L607.2 271.9 M533.9 258.3 L532.7 256.8 L534.2 255.7 L534.3 254.3 L534.0 253.0 L533.8 251.6 L534.9 250.5 L535.3 249.0 L536.1 247.8 L538.1 247.5 L536.9 245.0 L538.8 244.6 L540.4 245.0 L541.9 245.0 L543.0 242.8 L544.7 243.6 L544.4 245.4 L545.7 246.1 L545.9 247.5 L548.1 247.7 L548.6 248.9 L549.3 250.0 L548.7 252.1 L550.5 252.4 L549.6 253.4 L549.3 255.0 L548.4 256.0 L547.9 257.4 L546.6 258.3 L546.1 260.3 L544.7 261.1 L542.7 261.2 L542.7 263.1 L543.8 264.4 L545.5 263.2 L546.3 265.3 L548.1 263.8 L549.4 264.1 L550.5 265.1 L552.1 264.6 L553.2 265.4 L554.5 266.1 L556.2 265.5 L556.6 264.2 L557.0 263.0 L557.1 261.6 L557.4 260.2 L558.5 261.8 L560.3 261.2 L560.3 263.2 L562.2 263.7 L562.8 265.2 L564.2 266.1 L565.9 265.1 L567.0 267.2 L568.6 266.7 L570.1 267.1 L571.0 268.6 L572.4 269.3 L574.0 270.0 L575.5 269.9 L577.0 269.8 L577.5 272.6 L579.6 271.0 L580.5 272.4 L581.8 272.9 L583.1 272.1 L584.4 271.5 L586.2 272.3 L587.8 272.5 L588.6 270.2 L590.3 270.8 L591.6 270.0 L593.1 270.0 L594.1 271.1 L595.6 271.2 L597.1 271.1 L598.4 271.5 L599.4 272.9 L600.6 271.9 L602.1 273.7 L603.3 272.4 L604.5 271.5 L606.0 273.2 L607.2 271.9 M611.1 227.0 L612.6 228.4 L614.0 226.9 L615.5 226.0 L617.0 227.0 L618.6 227.1 L619.9 227.6 L620.7 229.0 L622.3 229.2 L622.8 230.9 L623.8 232.0 L624.1 233.4 L623.6 234.9 L623.1 236.4 L623.8 237.6 L624.8 238.7 L624.2 240.0 L623.4 241.2 L622.4 242.2 L621.9 243.6 L620.9 244.6 L619.4 244.7 L618.0 245.1 L616.8 244.2 L616.0 242.0 L614.1 244.0 L613.0 242.6 L612.6 241.2 L612.4 239.6 L612.5 237.9 L611.1 236.8 L610.3 235.4 L610.5 234.0 L610.4 232.6 L610.8 231.2 L610.9 229.8 L612.4 228.4 L611.1 227.0 M611.1 227.0 L612.6 228.0 L614.0 228.1 L615.5 225.7 L617.0 227.0 L618.9 226.7 L619.0 229.1 L619.9 230.3 L621.7 230.1 L622.8 230.9 L622.9 232.3 L624.8 233.2 L624.1 234.8 L623.0 236.4 L623.6 237.7 L624.8 238.7 L623.2 239.4 L622.1 240.3 L623.0 242.6 L622.6 244.0 L620.9 244.6 L619.3 245.2 L618.3 243.9 L617.1 243.1 L616.0 242.1 L614.5 242.4 L613.0 242.6 L612.9 241.0 L612.8 239.5 L611.5 238.3 L611.1 236.8 L611.2 235.4 L609.8 234.0 L611.9 232.6 L610.3 231.2 L612.3 229.8 L611.5 228.4 L611.1 227.0 M490.0 205.5 L490.9 206.7 L491.7 207.9 L491.7 209.3 L490.9 210.8 L491.1 212.2 L493.0 213.1 L493.4 214.4 L492.5 216.0 L492.7 217.3 L493.6 218.5 L494.3 219.7 L493.9 221.2 L494.1 222.5 L496.2 223.1 L495.9 224.6 L496.0 226.0 L495.2 227.7 L496.5 228.6 L496.3 230.1 L497.8 230.9 L499.3 231.8 L500.7 232.9 L500.3 231.4 L500.7 230.1 L501.7 229.0 L502.1 227.1 L500.7 226.2 L499.1 225.6 L497.6 224.8 L498.1 222.9 L497.7 221.4 L496.4 220.5 L495.9 219.2 L494.6 218.2 L495.0 216.4 L495.0 214.8 L492.6 214.3 L491.4 213.3 L492.0 211.4 M490.0 205.5 L490.8 206.7 L490.9 208.1 L490.5 209.6 L492.1 210.5 L490.8 212.2 L491.3 213.5 L492.3 214.6 L493.4 215.7 L491.7 217.6 L493.8 218.4 L492.7 220.1 L493.9 221.2 L495.1 222.1 L495.6 223.3 L494.7 225.1 L496.4 225.8 L495.2 227.7 L496.8 228.5 L498.1 229.4 L497.8 230.9 L499.7 231.3 L500.7 232.9 L500.8 231.5 L501.8 230.4 L501.7 229.0 L502.1 227.1 L499.4 227.0 L499.3 225.5 L498.1 224.5 L499.2 222.2 L496.5 222.2 L495.5 221.1 L495.9 219.2 L494.1 218.5 L494.3 216.7 L494.9 214.8 L494.2 213.5 L493.2 212.4 L492.0 211.4 M493.9 186.0 L493.5 187.9 L494.5 189.0 L496.6 189.3 L497.8 190.2 L496.8 192.5 L498.0 193.4 L500.5 193.5 L499.8 195.6 L501.2 196.4 L501.7 197.7 L503.1 198.2 L504.3 198.9 L505.7 199.3 L507.2 199.7 L507.6 201.6 L508.6 202.6 L508.9 203.9 L507.9 205.8 L510.5 206.1 L508.8 208.2 L511.3 208.6 L511.4 210.0 L511.5 211.4 L510.8 212.9 L511.0 214.3 L512.3 215.5 L513.5 216.7 L512.5 218.2 L513.0 219.5 L511.7 221.1 L513.9 222.2 L513.6 223.6 L513.4 225.1 L512.9 226.9 L515.7 227.6 L515.1 229.4 L515.4 230.9 L517.0 230.9 L518.1 230.0 L518.2 227.5 L519.4 226.7 L521.2 227.0 L519.9 225.8 L522.2 224.3 L520.2 223.2 L521.5 221.7 L521.8 220.4 L520.1 219.2 L519.9 218.0 L521.7 216.5 L520.3 215.3 L519.9 214.0 L518.3 213.4 L518.7 211.6 L517.0 211.1 L516.3 210.0 L514.9 209.3 L515.4 207.5 L515.7 206.0 L515.7 204.6 L514.5 203.6 L514.9 202.1 L512.0 201.6 L512.2 200.2 L512.4 198.7 L513.3 197.0 L512.8 195.8 L510.9 195.0 L510.1 193.9 L510.2 192.5 L509.9 191.2 L509.5 189.9 M493.9 186.0 L493.7 187.8 L496.2 187.9 L495.5 190.0 L496.5 191.1 L497.1 192.4 L498.0 193.5 L499.1 194.4 L500.6 195.1 L501.4 196.3 L501.7 197.7 L503.1 198.2 L503.6 199.9 L505.9 199.1 L506.9 200.1 L507.6 201.6 L507.4 203.1 L509.2 203.8 L510.2 204.8 L510.7 206.0 L509.9 207.8 L511.0 208.8 L509.7 210.7 L511.5 211.4 L510.6 212.9 L510.5 214.3 L512.7 215.4 L513.4 216.7 L513.6 218.1 L512.7 219.6 L512.3 221.0 L513.2 222.3 L514.0 223.6 L513.4 225.1 L514.1 226.5 L514.1 228.1 L514.4 229.6 L515.4 230.9 L516.9 230.7 L518.3 230.2 L519.2 229.0 L519.5 226.9 L521.2 227.0 L522.1 225.6 L520.5 224.5 L521.1 223.1 L520.5 221.8 L521.4 220.4 L519.8 219.3 L519.8 218.0 L519.7 216.7 L520.3 215.3 L518.8 214.7 L519.8 212.5 L518.4 211.8 L517.1 211.1 L516.5 209.9 L517.3 207.9 L515.4 207.5 L515.0 206.2 L513.8 205.2 L515.0 203.4 L514.1 202.3 L514.6 200.8 L511.8 200.3 L512.4 198.7 L512.9 197.2 L512.5 195.9 L512.3 194.6 L509.6 194.1 L509.8 192.6 L508.9 191.5 L509.5 189.9 M286.9 381.7 L288.3 380.8 L289.8 383.0 L291.3 382.0 L292.7 381.7 L292.3 383.6 L294.4 384.2 L293.8 386.1 L295.5 386.9 L296.6 387.9 L296.6 389.5 L297.0 391.2 L297.6 392.7 L300.4 392.3 L300.3 394.4 L301.5 395.4 L300.3 396.1 L300.1 397.9 L298.9 398.6 L298.3 400.0 L296.6 400.3 L294.9 399.9 L293.9 398.8 L293.3 397.1 L292.2 396.0 L290.8 395.4 L289.6 394.3 L288.7 393.0 L289.1 391.4 L289.7 389.8 L288.0 388.8 L287.9 387.3 L287.2 386.0 L288.5 384.2 L287.4 383.0 L286.9 381.7 M286.9 381.7 L288.3 380.5 L289.8 380.6 L291.3 381.4 L292.7 381.7 L293.3 383.1 L293.7 384.5 L295.7 385.1 L296.2 386.5 L295.5 388.5 L296.6 389.5 L297.8 390.5 L299.1 391.5 L300.0 392.7 L299.6 395.0 L301.5 395.4 L300.9 396.7 L299.4 397.2 L298.9 398.6 L297.8 399.5 L296.6 400.3 L296.1 398.5 L295.2 397.3 L292.9 397.6 L291.4 397.0 L290.8 395.4 L291.0 393.8 L289.2 392.9 L288.3 391.7 L290.3 389.6 L288.6 388.6 L289.3 386.9 L287.8 385.9 L288.7 384.2 L287.2 383.1 L286.9 381.7 M684.7 296.8 L685.9 297.6 L687.6 297.4 L688.6 298.8 L689.9 299.9 L691.5 297.9 L692.7 300.1 L694.3 298.4 L695.7 298.1 L697.0 298.8 L698.4 299.8 L699.8 300.3 L701.1 300.8 L702.1 297.9 L703.6 299.1 L704.9 298.9 L706.2 298.8 L707.7 298.9 L708.1 296.8 L709.7 297.0 L710.7 296.1 L712.0 295.9 L713.3 296.8 L714.6 295.2 L715.9 295.9 L715.0 297.7 L717.2 299.0 L716.9 300.7 L717.5 302.3 L715.9 303.6 L716.2 305.1 L715.9 306.6 L713.9 306.5 L713.0 304.6 L711.7 303.9 L710.0 305.0 L709.1 302.7 L707.7 302.6 L706.2 302.7 L705.0 301.7 L703.6 302.0 L702.2 302.6 L700.9 302.3 L699.6 302.2 L698.4 301.7 L697.1 300.6 L695.8 302.9 L694.5 300.6 L693.2 303.0 L691.8 302.5 L690.5 301.7 L689.0 302.1 L687.8 300.1 L686.2 301.0 L684.7 300.7 L683.4 299.7 L682.7 298.3 L684.7 296.8 M684.7 296.8 L685.5 298.4 L687.6 297.5 L688.6 298.8 L690.0 298.8 L691.4 299.2 L692.7 299.9 L694.1 300.1 L695.5 299.9 L697.0 299.2 L698.4 299.8 L699.6 299.1 L700.8 298.5 L702.4 300.2 L703.6 299.6 L705.0 299.6 L706.2 298.8 L706.9 297.4 L708.4 297.5 L710.0 297.7 L711.0 296.6 L712.0 295.9 L713.3 294.8 L714.6 295.8 L715.9 295.9 L715.2 297.7 L717.3 299.0 L716.9 300.7 L717.5 302.3 L717.0 303.8 L715.6 305.0 L715.9 306.6 L715.0 304.8 L713.0 304.6 L711.4 305.2 L710.0 304.8 L708.7 304.2 L707.4 303.6 L706.2 302.7 L704.9 302.5 L703.4 303.3 L702.2 302.7 L700.9 302.9 L699.8 300.6 L698.4 301.7 L697.1 301.1 L695.8 302.8 L694.5 300.4 L693.2 302.8 L691.8 302.0 L690.5 301.7 L689.3 300.1 L687.8 300.4 L686.3 300.3 L684.7 300.7 L683.6 299.6 L682.7 298.3 L684.7 296.8 M669.1 290.0 L670.2 291.1 L669.3 292.7 L670.0 293.9 L671.5 292.8 L673.0 293.1 L674.4 293.6 L675.9 293.9 L675.1 292.0 L676.9 291.0 L678.3 291.4 L679.1 293.0 L680.8 292.9 L681.3 294.7 L682.7 295.9 L684.2 295.7 L685.7 296.0 L687.1 295.4 L688.6 295.4 L689.9 294.3 L691.4 295.5 L692.8 294.9 L694.2 295.8 L695.6 296.2 L697.0 294.8 L698.4 294.9 L699.8 295.0 L701.2 295.4 L702.5 294.5 L703.9 293.8 L705.4 295.2 L706.8 295.5 L708.1 294.4 L709.5 295.2 L710.9 295.0 L712.2 295.4 L713.6 294.9 L715.0 294.4 L716.3 294.9 L717.7 294.4 L719.1 294.1 L720.4 295.1 L721.9 293.7 L723.2 294.7 L724.5 295.8 L725.9 295.7 L727.2 295.6 L728.7 294.6 L730.0 295.4 M669.1 290.0 L669.6 291.3 L669.8 292.6 L670.0 293.9 L671.5 294.2 L673.0 293.7 L674.4 294.4 L675.9 293.9 L677.5 292.8 L676.9 291.0 L678.6 290.8 L679.3 292.7 L680.8 292.9 L681.1 294.8 L682.7 295.9 L684.2 295.4 L685.7 295.6 L687.2 296.8 L688.6 295.4 L689.9 294.0 L691.4 295.4 L692.7 294.2 L694.2 295.9 L695.6 296.3 L697.0 295.0 L698.4 294.9 L699.7 293.7 L701.2 295.0 L702.6 294.8 L704.0 295.2 L705.3 294.6 L706.7 294.9 L708.1 294.4 L709.5 295.3 L710.9 294.5 L712.2 294.1 L713.6 295.6 L715.0 294.4 L716.4 293.7 L717.7 295.1 L719.1 294.4 L720.4 295.5 L721.9 293.8 L723.1 296.3 L724.6 294.6 L726.0 293.9 L727.3 294.6 L728.7 295.0 L730.0 295.4 M919.0 187.4 L919.8 189.3 L918.2 190.4 L917.5 191.7 L917.0 193.3 L915.6 194.4 L915.7 196.2 L914.6 197.5 L914.2 199.3 L913.4 200.8 L911.8 201.8 L910.2 201.5 L908.6 201.3 L907.5 202.8 L906.0 203.2 L904.8 204.3 L903.0 203.1 L901.8 204.6 L900.3 204.7 L899.3 206.3 L898.0 207.4 L896.0 207.5 L894.2 207.6 L893.1 209.0 L894.8 209.3 L896.1 208.4 L897.4 207.5 L898.8 207.1 L900.3 207.0 L901.5 205.7 L903.2 206.1 L904.3 207.7 L906.1 206.4 L907.4 207.6 L908.9 207.5 L910.8 207.3 L912.3 206.4 L913.2 204.7 L914.6 204.1 L915.9 203.2 L917.5 203.2 L918.7 201.9 L919.7 200.4 L921.0 201.5 L920.4 203.2 L918.6 204.1 L918.2 206.1 L918.5 207.6 L916.9 208.8 L918.3 210.5 L917.5 211.8 L918.0 213.2 L918.6 214.6 L918.3 216.1 L918.2 217.6 L920.0 217.9 L921.5 218.4 L921.8 220.5 L922.3 221.8 L924.2 221.9 L924.7 223.3 L926.2 224.4 L927.1 225.9 L927.6 227.6 L929.0 228.5 L930.6 229.4 L931.9 230.5 L933.2 231.2 L934.6 231.7 L936.3 231.2 L937.6 231.9 L939.1 233.1 L940.5 232.9 L941.9 230.7 L943.4 231.9 L944.8 232.9 L946.2 233.1 L947.7 232.7 L949.1 231.9 L950.4 230.8 L952.1 232.5 L953.5 231.8 L954.8 231.2 L956.1 229.7 L957.5 229.5 L959.3 231.9 L960.6 230.5 L962.3 229.9 L963.1 228.0 L964.9 227.6 L965.8 225.9 L967.8 226.2 L969.6 226.0 L970.6 227.6 L972.1 226.9 L973.5 228.4 L974.9 227.6 L976.2 226.5 L977.8 226.2 M919.0 187.4 L919.4 189.2 L916.9 189.9 L917.5 191.7 L916.1 192.8 L916.9 195.0 L914.4 195.6 L914.6 197.5 L913.4 198.8 L912.1 199.9 L911.8 201.8 L910.2 201.7 L908.6 201.4 L907.3 202.1 L906.0 203.2 L904.4 202.7 L903.4 204.8 L901.6 203.8 L900.3 204.7 L898.8 205.5 L897.0 206.0 L896.0 207.5 L894.6 208.4 L893.1 209.0 L894.9 209.5 L896.0 208.2 L897.4 207.5 L898.7 206.5 L900.1 206.1 L901.5 205.5 L903.2 206.1 L904.6 206.4 L906.3 205.6 L907.5 207.1 L908.9 207.5 L909.8 205.7 L911.8 205.6 L913.2 204.7 L914.6 204.2 L916.1 203.8 L917.5 203.2 L919.4 202.4 L919.7 200.4 L921.4 201.5 L920.4 203.2 L918.6 204.1 L918.2 206.1 L918.1 207.5 L917.7 208.9 L917.2 210.3 L917.5 211.8 L916.8 213.4 L918.2 214.7 L918.3 216.1 L918.2 217.6 L918.6 219.5 L921.4 218.6 L921.8 220.5 L922.5 221.7 L923.5 222.6 L924.7 223.3 L926.8 224.0 L926.4 226.4 L927.6 227.6 L928.7 229.0 L929.8 230.6 L931.9 230.5 L933.4 230.4 L934.4 232.5 L936.2 231.6 L937.6 231.9 L939.1 231.9 L940.5 233.1 L941.9 230.6 L943.4 231.9 L944.8 232.5 L946.2 232.3 L947.7 231.5 L949.1 231.9 L950.7 232.8 L951.9 231.2 L953.4 231.3 L954.8 231.2 L956.3 231.1 L957.8 231.6 L959.0 229.9 L960.6 230.5 L961.9 229.4 L963.3 228.4 L964.9 227.6 L966.4 227.0 L967.8 226.2 L968.8 227.7 L970.6 227.6 L972.1 227.1 L973.5 228.5 L974.9 227.6 L976.3 226.7 L977.8 226.2 M977.4 214.8 L978.7 215.7 L979.9 216.5 L980.1 218.3 L979.1 219.8 L978.3 221.1 L977.4 222.3 M977.4 214.8 L977.9 216.8 L979.9 216.5 L979.1 218.1 L979.1 219.8 L977.6 220.6 L977.4 222.3 M982.1 229.1 L980.9 230.4 L979.5 231.4 L977.8 231.9 L976.7 233.4 L974.8 233.7 L973.5 234.8 L972.3 235.7 L971.1 236.6 L972.0 239.0 L969.6 239.0 L969.2 240.6 L967.4 240.9 L967.0 242.6 L966.9 244.7 L964.9 244.9 L964.2 246.3 L963.7 248.0 L962.3 248.7 L960.6 249.2 L958.7 249.1 L958.1 250.6 L956.9 251.4 L955.5 252.0 L954.8 253.5 L953.0 253.7 L952.5 255.4 L951.4 256.5 L950.5 257.8 L949.3 259.0 L948.2 260.3 L947.7 262.1 L947.0 263.5 L946.5 264.8 L947.4 266.6 L946.2 267.8 L945.1 269.1 L944.9 270.7 L943.4 271.8 L943.4 273.6 L943.6 275.5 L942.7 276.8 L942.4 278.5 L940.5 279.3 L938.9 280.3 L937.6 281.5 L937.6 283.6 L936.2 283.2 L934.7 284.0 L933.3 283.6 L932.9 281.9 L931.7 280.9 L930.2 280.3 L929.0 279.3 L927.5 278.3 L926.6 276.7 L926.1 275.0 L924.3 275.2 L922.5 275.0 L922.5 273.4 L923.2 272.1 L924.2 270.8 L925.4 269.6 L924.7 267.8 L924.3 265.8 L926.3 265.0 L925.7 262.9 L927.6 262.1 L927.4 260.3 L929.7 260.1 L929.9 258.6 L931.4 257.9 L931.0 256.0 L931.9 254.9 L931.6 253.0 L933.3 252.7 L934.5 252.0 L936.1 251.6 L937.0 250.6 L936.7 248.7 L937.6 247.7 L938.6 246.7 L939.2 245.1 L941.3 245.5 L941.7 243.6 L943.4 243.4 L944.4 242.1 L945.6 241.4 L946.9 241.0 L948.8 242.5 L949.7 240.6 L951.3 241.3 L949.4 241.1 L949.8 243.9 L947.4 243.0 L947.6 245.4 L946.7 246.5 L944.8 246.3 L943.6 247.2 L944.0 249.1 L942.6 249.9 M982.1 229.1 L980.3 229.5 L979.7 231.7 L977.8 231.9 L977.1 233.9 L974.5 233.2 L973.5 234.8 L972.2 235.6 L971.0 236.5 L970.4 237.9 L971.0 240.1 L969.2 240.6 L967.9 241.4 L966.6 242.3 L966.0 243.9 L964.9 244.9 L963.0 245.1 L963.2 247.5 L960.7 247.2 L960.6 249.2 L959.1 249.5 L959.1 252.0 L958.0 252.8 L955.7 252.3 L954.8 253.5 L953.1 253.9 L953.5 256.5 L952.0 257.1 L950.5 257.8 L949.0 258.9 L949.4 261.2 L947.7 262.1 L946.3 263.3 L947.0 265.0 L947.8 266.7 L946.2 267.8 L945.8 269.4 L944.6 270.6 L944.2 272.2 L943.4 273.6 L942.2 274.8 L942.8 276.9 L940.5 277.5 L940.5 279.3 L939.8 281.0 L938.2 282.0 L937.6 283.6 L936.2 283.3 L934.7 283.8 L933.3 283.6 L932.0 282.8 L931.7 280.9 L931.0 279.5 L929.0 279.3 L928.7 277.4 L927.2 276.3 L926.1 275.0 L924.3 275.6 L922.5 275.0 L921.8 273.2 L924.7 272.5 L924.4 270.9 L925.1 269.5 L924.7 267.8 L925.0 266.2 L926.4 265.1 L928.0 264.1 L927.6 262.1 L929.1 261.4 L929.2 259.8 L929.3 258.2 L930.3 257.2 L932.1 256.7 L931.9 254.9 L932.4 253.7 L933.9 253.2 L934.6 252.0 L936.0 251.5 L936.6 250.3 L936.3 248.4 L937.6 247.7 L937.9 245.8 L939.5 245.5 L940.9 245.0 L942.4 244.5 L943.4 243.4 L944.9 243.9 L946.3 243.8 L947.0 241.1 L948.9 242.9 L950.2 242.5 L951.3 241.3 L949.5 241.3 L949.0 242.8 L948.4 244.3 L946.3 243.8 L945.3 244.8 L944.8 246.3 L943.6 247.2 L942.4 248.1 L942.6 249.9 M907.5 262.1 L908.7 262.7 L910.2 263.2 L910.3 265.0 L910.9 266.8 L911.8 268.5 L909.8 269.0 L908.9 270.7 L907.7 272.0 L905.8 271.0 L904.6 272.1 L902.5 272.1 L902.1 274.7 L900.3 275.0 L898.7 275.7 L897.1 276.5 L896.0 277.9 L894.6 278.9 L893.6 280.5 L891.7 280.7 L891.2 282.2 L889.3 282.2 L888.8 283.6 L887.4 284.7 L887.5 286.5 L887.7 288.4 L885.9 289.4 L884.6 290.3 L884.1 291.7 L884.9 293.6 L883.4 294.6 L883.1 296.0 M907.5 262.1 L907.6 263.8 L908.6 264.8 L910.3 265.0 L911.0 266.8 L911.8 268.5 L910.4 269.7 L908.9 270.7 L907.4 270.9 L906.3 272.5 L904.6 272.1 L903.6 273.8 L902.2 274.8 L900.3 275.0 L898.5 275.5 L897.6 277.2 L896.0 277.9 L894.5 278.7 L893.3 280.0 L891.7 280.7 L890.7 281.7 L890.5 283.4 L888.8 283.6 L889.2 285.6 L886.1 285.9 L887.0 288.1 L885.9 289.4 L886.4 291.1 L884.4 291.9 L883.5 293.0 L884.5 295.0 L883.1 296.0 M912.8 270.0 L911.4 270.5 L910.6 271.8 L909.1 272.2 L907.9 272.9 L907.5 275.0 L906.3 275.9 L903.4 274.8 L903.0 276.8 L901.3 276.7 L900.6 278.3 L899.2 278.9 L898.1 279.8 L897.2 281.3 L895.1 281.1 L894.2 282.7 L893.0 283.5 L891.1 282.9 L890.3 284.6 L889.1 285.6 L888.5 286.8 L887.6 287.8 L888.4 289.5 L887.9 291.0 L887.3 292.4 L886.0 293.1 L884.5 293.4 L883.7 295.1 L882.5 296.3 L880.5 296.4 L879.8 298.4 L877.6 298.3 L876.5 299.7 L875.7 301.2 L874.3 302.3 L875.1 303.9 L874.7 305.2 L873.1 306.2 L872.9 307.5 L873.7 309.1 L874.6 310.7 L872.8 311.6 L872.7 313.0 L872.9 314.3 L873.5 315.7 L872.2 316.9 M912.8 270.0 L910.9 269.6 L910.7 272.0 L909.0 272.0 L907.9 272.9 L906.4 273.6 L904.7 273.9 L903.9 275.5 L903.0 276.8 L901.9 277.8 L900.6 278.4 L899.8 279.9 L898.1 279.8 L896.0 279.7 L894.7 280.6 L894.2 282.7 L893.3 284.0 L892.2 285.2 L890.3 284.6 L890.5 286.1 L889.7 287.2 L887.8 287.9 L888.4 289.5 L886.6 289.7 L885.7 290.8 L886.3 293.4 L884.5 293.4 L882.7 293.8 L881.5 294.9 L880.5 296.4 L878.9 297.0 L877.6 298.3 L875.5 299.0 L875.7 301.2 L876.5 302.9 L876.0 304.1 L874.7 305.2 L873.7 306.3 L872.8 307.5 L873.7 309.1 L872.9 310.2 L873.6 311.8 L872.7 313.0 L872.3 314.2 L871.7 315.5 L872.2 316.9 M819.5 399.5 L818.7 401.4 L816.6 401.5 L816.0 402.8 L815.1 403.9 L813.7 404.4 L813.6 406.5 L811.7 407.3 L812.1 408.6 L813.3 409.7 L812.7 411.2 L814.0 412.2 L814.9 413.4 L814.6 415.2 L814.9 416.7 L817.2 417.2 L816.6 419.1 L816.7 420.6 L818.7 421.3 L818.6 423.0 L820.4 423.7 L818.8 426.1 L820.5 426.9 L821.6 428.0 L820.0 429.8 L821.5 430.8 L821.2 432.5 L821.8 433.9 L823.4 434.7 L824.4 436.0 L823.6 437.3 L823.4 438.6 L824.9 439.6 L822.9 441.5 L824.4 442.5 L824.2 444.2 L825.4 445.3 L826.4 446.4 L827.9 447.3 L829.3 448.4 M819.5 399.5 L818.3 400.9 L816.6 401.5 L815.0 401.8 L814.7 403.5 L813.7 404.4 L812.4 405.7 L811.7 407.3 L813.0 408.4 L813.1 409.8 L812.7 411.2 L814.5 412.0 L813.5 414.1 L814.6 415.2 L815.2 416.5 L816.8 417.3 L816.6 419.1 L816.3 420.8 L818.5 421.4 L818.6 423.0 L819.4 424.2 L820.7 425.1 L820.5 426.9 L821.5 428.0 L820.2 429.7 L821.5 430.8 L822.5 431.9 L823.6 433.0 L823.4 434.7 L823.5 436.0 L823.9 437.3 L823.4 438.6 L822.7 440.2 L825.1 440.9 L824.4 442.5 L823.9 444.4 L826.8 444.5 L826.4 446.4 L827.2 448.3 L829.3 448.4 M804.9 419.1 L804.3 420.3 L805.4 421.8 L804.4 423.0 L805.9 424.9 L807.2 425.2 L808.6 425.0 L809.8 425.9 L811.2 425.8 L812.5 426.1 L813.6 427.0 L814.6 427.9 L816.0 429.5 L817.6 429.9 L819.5 428.8 M804.9 419.1 L803.5 420.2 L805.7 421.8 L804.4 423.0 L805.9 424.9 L807.3 424.7 L808.2 426.6 L809.8 425.9 L811.4 425.2 L812.0 427.5 L813.6 426.8 L814.6 427.9 L816.0 429.5 L818.2 427.2 L819.5 428.8 M811.7 430.8 L812.5 432.3 L814.4 431.9 L815.9 432.1 L816.6 433.7 L818.5 433.2 L818.6 436.0 L820.2 436.0 L821.5 436.6 M811.7 430.8 L813.4 430.8 L814.3 432.1 L814.8 434.0 L816.6 433.7 L818.2 433.8 L818.9 435.3 L820.8 435.0 L821.5 436.6 M813.7 444.5 L815.4 444.1 L816.4 446.1 L817.9 446.5 L819.5 446.4 L821.2 446.3 L822.7 446.7 L823.4 448.4 M813.7 444.5 L815.5 443.8 L816.5 445.7 L818.1 445.9 L819.5 446.4 L821.1 446.5 L822.5 447.0 L823.4 448.4 M820.5 398.6 L819.5 399.6 L818.5 400.7 L817.6 401.8 L817.6 403.4 L817.1 404.9 L817.9 406.5 L818.0 408.0 L816.6 409.3 L816.8 410.9 L818.3 411.6 L818.3 413.3 L819.5 414.2 L821.3 414.8 L820.3 417.1 L822.1 417.6 L822.5 419.1 L822.4 420.8 L823.1 422.0 L824.7 422.7 L825.4 423.9 L827.5 424.4 L826.4 427.2 L828.3 427.9 L828.7 429.1 L828.0 430.7 L829.3 431.8 L829.6 433.5 L829.5 435.2 L828.3 436.6 L827.4 437.9 L828.7 439.2 L828.3 440.5 L829.7 441.7 L829.3 443.5 L830.0 442.2 L831.2 441.5 L831.8 439.9 L830.5 438.0 L832.2 436.6 L832.5 435.2 L832.6 433.7 L833.0 432.3 L833.2 430.8 L832.3 429.3 L834.1 428.3 L833.7 426.9 M820.5 398.6 L819.0 399.3 L818.2 400.5 L818.7 402.5 L817.6 403.4 L816.8 404.8 L817.4 406.4 L816.2 407.7 L816.6 409.3 L818.4 409.9 L817.2 412.3 L817.7 413.6 L819.5 414.2 L820.3 415.4 L821.0 416.6 L821.7 417.9 L822.5 419.1 L823.1 420.3 L825.1 420.8 L823.5 423.4 L825.4 423.9 L827.0 424.8 L828.1 426.0 L828.3 427.9 L829.7 428.9 L829.6 430.3 L829.3 431.8 L828.1 433.2 L829.9 435.3 L828.3 436.6 L829.5 437.9 L827.8 439.2 L828.3 440.5 L829.6 441.7 L829.3 443.5 L829.3 441.5 L831.2 441.5 L831.8 440.0 L832.1 438.3 L832.2 436.6 L832.5 435.2 L833.3 433.8 L831.9 432.1 L833.2 430.8 L834.4 429.6 L834.1 428.3 L833.7 426.9 M771.8 570.0 L770.8 568.4 L771.2 567.1 L772.4 565.8 L772.7 564.4 L772.3 563.0 L772.1 561.5 L773.1 560.2 L772.5 558.7 L773.8 557.5 L774.3 556.2 L775.3 554.9 L773.6 553.1 L775.1 552.0 L775.8 550.7 L774.5 548.9 L775.7 547.7 L777.4 547.7 L778.7 547.2 L779.0 545.1 L780.3 544.4 L781.6 543.8 L783.2 543.8 L783.8 542.2 L784.7 541.1 L786.8 541.5 L787.6 540.3 L788.0 538.4 L789.4 538.0 L789.6 536.4 L790.7 535.5 L791.7 534.5 L793.8 534.3 L794.2 532.9 L795.3 532.0 L795.2 530.2 L796.7 529.2 L797.4 528.0 L796.1 525.7 L797.9 525.0 L799.6 524.2 L799.1 522.3 L801.0 522.0 L800.3 519.7 L801.5 518.9 L802.8 518.1 L803.0 516.5 L804.2 515.7 L805.0 514.5 L805.8 512.8 L807.5 513.1 L808.9 512.6 L809.6 510.7 L811.1 510.4 L812.8 510.6 L814.7 510.2 L815.0 508.7 L816.2 507.8 L816.2 506.1 L816.7 504.8 L818.1 503.9 L819.0 502.6 L819.6 501.3 L818.2 499.0 L820.3 498.4 L820.6 497.0 L821.1 495.5 L822.9 495.4 L823.1 493.6 L824.6 493.1 L826.3 492.9 L826.5 491.1 L827.8 490.6 L828.4 489.0 L830.0 488.8 L831.1 487.8 L832.3 487.2 L834.2 487.4 L834.1 485.1 L835.2 484.4 L836.9 484.3 L837.1 482.3 L838.9 482.6 L840.6 482.6 L840.9 480.8 L842.0 480.0 L842.8 478.4 L844.4 477.7 L844.5 476.0 L844.9 474.4 L844.9 472.8 L843.5 471.9 L843.0 470.7 L842.5 469.5 L843.0 467.9 L841.6 467.3 L840.8 466.1 L840.0 465.0 L838.6 464.4 L837.6 463.5 L837.1 462.0 L835.4 461.4 L835.8 459.5 L835.7 457.9 L834.2 457.1 L833.7 455.8 L832.9 454.6 L832.3 453.3 L831.2 452.3 L829.9 451.3 L830.5 449.4 L829.3 448.4 M771.8 570.0 L771.9 568.6 L772.4 567.2 L772.8 565.9 L772.6 564.4 L772.4 563.0 L772.4 561.6 L772.5 560.2 L773.6 558.9 L773.8 557.5 L773.7 556.0 L774.5 554.8 L773.2 553.0 L774.5 551.8 L776.1 550.7 L774.7 549.0 L775.7 547.7 L777.0 547.1 L778.0 546.2 L778.9 544.9 L781.1 545.7 L781.6 543.8 L782.3 542.5 L784.3 542.8 L784.3 540.6 L785.3 539.5 L787.8 540.5 L788.2 538.7 L789.4 538.0 L789.2 536.1 L790.8 535.5 L791.8 534.5 L793.3 533.9 L792.7 531.7 L793.8 530.8 L795.2 530.2 L797.0 529.4 L797.1 527.9 L796.3 525.8 L797.4 524.7 L798.1 523.5 L799.1 522.3 L800.4 521.5 L801.1 520.3 L802.4 519.6 L803.2 518.4 L803.4 516.8 L804.7 516.0 L805.0 514.5 L806.6 514.5 L807.9 513.9 L808.9 512.5 L810.6 512.6 L811.8 511.8 L812.8 510.6 L814.6 510.1 L813.5 507.7 L816.0 507.7 L814.8 505.2 L816.7 504.8 L818.0 503.8 L818.2 502.3 L818.7 500.9 L820.5 500.1 L820.2 498.3 L820.6 497.0 L821.4 495.8 L823.1 495.6 L824.3 494.8 L824.7 493.3 L825.3 491.8 L826.5 491.1 L827.6 490.2 L828.8 489.4 L830.3 489.3 L830.9 487.5 L832.3 487.2 L833.2 486.1 L834.6 485.7 L835.4 484.5 L836.3 483.6 L838.2 483.8 L839.4 483.2 L839.8 481.6 L840.8 480.7 L842.0 480.0 L842.6 478.2 L844.4 477.7 L844.1 476.0 L843.8 474.3 L844.9 472.8 L844.6 471.5 L844.2 470.2 L842.4 469.5 L843.0 467.9 L842.8 466.1 L840.7 466.3 L840.0 465.0 L839.7 463.3 L838.8 462.3 L837.1 462.0 L837.5 460.1 L834.9 460.0 L834.7 458.5 L834.2 457.1 L834.4 455.3 L831.5 455.4 L830.9 454.1 L831.2 452.3 L830.8 450.9 L829.9 449.7 L829.3 448.4 M821.5 461.1 L821.6 462.9 L822.9 463.5 L824.4 464.0 L824.0 465.3 L822.4 466.3 L823.4 467.9 L824.8 467.3 L826.1 466.6 L827.3 465.9 L829.1 466.1 L830.5 465.0 L832.2 465.0 L833.9 465.6 L835.2 466.9 L835.9 468.5 L837.1 469.8 L836.5 471.4 L834.2 471.7 L834.2 473.8 L832.6 473.8 L831.2 474.7 L830.1 476.3 L828.3 475.7 L827.1 476.4 L825.8 476.6 L824.4 476.5 L823.1 476.8 L821.6 476.3 L820.5 477.7 M821.5 461.1 L821.5 463.0 L823.5 463.0 L824.4 464.0 L824.3 465.3 L823.4 466.5 L823.4 467.9 L825.4 468.5 L825.8 466.2 L827.3 465.9 L829.0 465.7 L830.8 466.2 L832.2 465.0 L834.2 465.2 L835.2 466.9 L836.6 468.1 L837.1 469.8 L835.1 470.3 L834.4 471.9 L834.2 473.8 L832.7 474.2 L831.6 475.8 L829.4 474.2 L828.3 475.7 L826.9 475.5 L825.5 475.5 L824.1 475.3 L822.8 476.0 L821.9 477.5 L820.5 477.7 M821.5 460.8 L823.1 461.4 L823.5 462.7 L823.7 464.1 L824.4 465.2 L825.9 464.7 L827.1 463.4 L828.8 463.7 L830.4 463.7 L830.8 465.5 L832.0 466.2 L833.2 466.7 L833.9 465.4 L836.2 465.7 L836.2 463.7 L837.2 462.5 L837.6 460.8 M821.5 460.8 L823.3 461.2 L823.2 462.9 L823.0 464.6 L824.4 465.2 L825.7 464.2 L827.5 464.7 L828.8 463.7 L830.7 463.3 L831.3 464.8 L831.6 466.7 L833.2 466.7 L834.4 465.9 L835.5 465.1 L836.2 463.7 L836.1 461.9 L837.6 460.8 M823.0 468.1 L824.5 468.6 L825.9 469.3 L827.4 469.6 L829.1 469.5 L830.2 471.0 L831.8 471.1 L833.2 471.6 L834.3 473.4 L836.2 472.5 L837.7 472.0 L839.1 471.1 M823.0 468.1 L824.5 468.4 L826.2 468.1 L827.4 469.6 L829.1 469.2 L830.1 471.3 L831.8 471.1 L833.6 470.5 L835.1 471.0 L836.2 472.5 L837.2 471.0 L839.1 471.1 M820.1 478.4 L821.5 478.7 L822.8 479.8 L824.4 479.1 L826.1 478.7 L827.8 478.4 L828.8 476.9 L830.6 476.6 L831.8 477.3 L831.7 479.8 L833.2 479.9 L834.9 480.1 L836.2 481.3 M820.1 478.4 L821.4 479.2 L823.1 478.5 L824.4 479.1 L825.5 477.6 L827.1 477.1 L828.8 476.9 L830.6 476.7 L830.4 479.3 L832.0 479.3 L833.2 479.9 L834.9 480.2 L836.2 481.3 M823.0 485.7 L824.5 486.1 L826.0 486.4 L827.4 487.2 L828.4 485.5 L830.7 487.2 L831.8 485.7 L833.1 486.7 L834.7 487.2 M823.0 485.7 L824.0 487.4 L826.0 486.5 L827.4 487.2 L829.0 487.0 L830.1 485.5 L831.8 485.7 L833.8 485.3 L834.7 487.2 M818.6 494.5 L820.4 495.2 L821.8 494.5 L823.0 493.0 L824.3 492.1 L826.3 493.1 L827.4 491.6 M818.6 494.5 L820.3 494.9 L821.3 493.0 L823.0 493.0 L824.5 492.8 L826.3 493.3 L827.4 491.6 M811.3 430.1 L812.4 431.1 L812.6 433.1 L815.1 432.8 L815.7 434.4 L817.2 434.6 L818.4 436.0 L820.1 435.9 M811.3 430.1 L812.9 430.6 L813.8 431.9 L813.8 434.1 L815.7 434.4 L817.1 434.9 L818.3 436.2 L820.1 435.9 M812.7 440.3 L814.2 440.3 L815.5 440.7 L816.4 441.7 L817.8 441.9 L818.6 443.2 L818.8 445.3 L821.2 445.0 L821.8 446.7 L823.0 447.6 M812.7 440.3 L814.4 439.9 L815.0 441.6 L816.4 441.8 L817.5 442.4 L818.6 443.2 L820.5 443.5 L821.5 444.7 L821.2 447.2 L823.0 447.6 M511.5 667.0 L511.9 665.5 L512.3 664.1 L512.9 662.8 L513.9 661.8 L514.5 660.5 L514.8 659.0 L517.0 658.6 L517.3 657.2 L518.2 656.0 L519.0 654.7 L521.0 655.1 L521.1 652.9 L522.5 652.5 L524.6 652.9 L525.2 651.3 L525.8 649.7 L527.5 649.7 L529.3 649.9 L530.5 649.1 L530.8 646.8 L532.3 646.6 L534.0 646.7 L534.9 645.5 L536.0 644.4 L538.0 645.1 L538.2 642.6 L540.5 643.6 L541.0 641.8 L541.9 640.4 L543.4 640.2 L544.7 639.6 L545.2 637.9 L547.3 638.4 L547.6 636.6 L549.8 637.2 L550.4 635.6 L551.2 634.3 L552.5 633.8 L553.0 632.3 L554.7 632.0 L554.9 630.3 L557.1 630.6 L556.6 628.1 L558.4 627.9 L559.4 627.0 L560.3 625.9 L561.4 624.8 L563.2 625.7 L564.1 624.2 L565.7 624.4 L566.9 623.7 L568.1 623.0 M511.5 667.0 L511.8 665.5 L512.7 664.4 L512.7 662.7 L513.6 661.6 L516.0 661.4 L515.4 659.4 L517.0 658.6 L517.3 657.2 L517.8 655.5 L519.7 655.7 L520.5 654.4 L521.8 653.8 L522.6 652.5 L523.3 651.2 L525.2 651.3 L526.1 650.1 L527.2 649.2 L528.3 648.2 L530.4 648.9 L530.9 647.1 L532.3 646.7 L534.3 647.2 L534.9 645.5 L536.5 645.4 L537.9 644.9 L539.1 644.1 L539.3 641.7 L540.7 641.3 L541.6 639.9 L543.7 640.8 L544.7 639.6 L546.1 639.1 L546.7 637.6 L547.9 636.9 L549.4 636.6 L550.6 635.9 L551.0 634.0 L552.5 633.8 L554.2 633.5 L554.2 631.5 L555.7 631.1 L555.8 629.2 L556.6 628.1 L559.2 628.7 L559.8 627.4 L560.3 625.9 L561.8 626.0 L562.5 623.8 L563.8 623.3 L565.2 623.1 L566.5 622.7 L568.1 623.0 M568.1 623.0 L569.4 622.3 L570.7 622.4 L571.9 621.2 L573.3 621.8 L574.7 622.6 L575.9 622.0 L577.4 621.3 L578.4 623.3 L579.8 622.7 L581.1 623.3 L582.5 622.2 L583.8 623.0 L585.0 622.7 L586.4 623.2 L587.6 622.1 L588.8 621.0 L590.4 623.1 L591.6 622.0 L593.0 622.6 L594.1 621.1 L595.3 620.3 L596.9 622.4 L598.1 621.5 L599.4 621.1 L601.1 620.4 L602.2 621.4 L603.7 621.5 L604.3 623.8 L606.2 622.7 L607.2 624.0 L607.7 625.7 L609.1 626.1 L611.3 625.4 L611.6 627.6 L613.0 627.9 L614.5 628.3 L615.3 629.8 L616.5 630.7 L618.5 629.9 L620.1 630.1 L620.9 631.8 L622.7 632.5 L623.7 630.6 L625.6 631.5 L626.7 629.8 L628.3 629.7 L629.6 629.1 L631.0 628.7 L632.1 627.6 L633.2 626.5 L634.5 625.9 L636.1 625.1 L637.0 627.1 L638.5 626.7 L639.7 627.3 L640.8 628.7 L642.3 627.9 L644.1 627.4 L645.0 629.6 L647.1 628.1 L648.2 629.8 L648.1 628.3 L647.7 626.9 L645.7 626.2 L645.7 624.6 L646.1 622.7 L644.3 622.0 L644.3 620.6 L643.8 619.4 L642.6 618.3 L641.8 617.1 L642.3 615.6 L642.3 614.2 L643.1 613.1 L643.7 611.7 L644.9 610.9 L646.2 610.3 M568.1 623.0 L569.3 621.8 L570.8 623.3 L572.1 623.0 L573.2 621.6 L574.5 621.5 L575.9 622.0 L577.2 622.2 L578.6 622.2 L579.7 623.7 L581.2 622.3 L582.5 622.3 L583.8 623.0 L585.2 623.9 L586.2 621.7 L587.7 622.7 L588.9 621.9 L590.4 623.1 L591.6 622.0 L592.9 622.0 L594.3 622.4 L595.4 620.6 L596.8 621.8 L598.1 621.5 L599.4 621.1 L600.7 621.4 L601.7 622.7 L603.0 623.4 L605.0 622.0 L606.1 622.9 L607.2 624.0 L608.6 624.4 L610.0 624.9 L611.4 625.3 L612.2 626.6 L613.0 627.9 L614.7 627.8 L615.4 629.7 L617.0 629.7 L618.7 629.5 L619.8 630.7 L620.9 631.8 L622.3 631.2 L623.7 630.5 L625.0 629.5 L626.7 629.8 L627.5 628.1 L628.7 627.3 L631.2 629.1 L632.2 627.9 L632.7 625.5 L634.5 625.9 L635.7 626.9 L636.8 627.9 L638.4 627.1 L640.0 626.2 L641.0 627.5 L642.3 627.9 L643.9 628.2 L645.5 628.0 L646.7 629.5 L648.2 629.8 L646.3 629.2 L648.0 626.7 L646.6 625.8 L645.9 624.5 L646.0 622.8 L644.3 622.0 L644.4 620.6 L643.0 619.6 L642.6 618.3 L642.0 617.1 L641.4 615.8 L642.3 614.2 L643.9 613.8 L645.0 612.9 L644.9 610.9 L646.2 610.3 M826.5 649.6 L827.3 648.0 L829.2 648.3 L830.7 647.9 L831.4 646.3 L833.4 646.9 L834.4 644.3 L836.3 644.7 L837.9 645.5 L839.6 645.6 L841.2 644.7 L842.8 644.1 L843.0 642.2 L844.5 641.4 L846.0 640.3 L847.9 641.8 L849.4 640.6 L850.8 640.4 L852.1 640.9 L853.2 641.7 L854.7 641.6 L855.9 642.2 L857.4 643.4 L859.3 642.1 L860.8 643.1 L862.3 644.5 L861.1 646.3 L861.6 647.9 L860.7 649.5 L859.7 650.9 L860.0 652.8 L859.1 654.4 L858.3 655.9 L859.2 657.7 L858.6 655.9 L856.7 656.1 L857.0 654.5 L857.2 652.8 L857.5 651.2 L855.9 650.7 L855.4 649.4 L855.1 647.9 L854.0 646.9 L852.6 646.3 M826.5 649.6 L827.1 647.8 L829.3 648.4 L829.7 646.3 L831.4 646.3 L833.0 645.6 L835.1 646.5 L836.3 644.7 L837.9 643.5 L839.6 643.4 L841.2 644.7 L842.2 643.5 L842.8 641.9 L844.5 641.4 L846.2 641.8 L847.5 639.5 L849.4 640.6 L850.4 641.9 L851.7 642.2 L853.1 642.4 L854.6 641.7 L855.9 642.2 L857.6 641.9 L859.1 643.2 L860.8 643.1 L861.0 644.7 L861.5 646.3 L861.6 647.9 L861.5 649.7 L860.7 651.3 L860.0 652.8 L859.2 654.4 L858.5 656.0 L859.2 657.7 L858.6 656.0 L856.7 656.1 L856.0 654.3 L856.7 652.7 L857.5 651.2 L856.6 650.2 L856.0 648.9 L855.1 647.9 L853.6 647.5 L852.6 646.3 M826.5 649.6 L828.3 649.0 L830.0 649.0 L831.4 650.4 L832.6 649.5 L834.1 649.5 L835.9 650.4 L837.2 649.9 L838.5 649.3 L839.6 647.9 L841.6 648.7 L843.2 648.1 L844.5 646.3 M826.5 649.6 L828.1 650.2 L829.6 651.0 L831.4 650.4 L832.4 648.8 L834.3 650.0 L835.6 649.5 L836.7 648.2 L838.3 648.5 L839.6 647.9 L841.6 648.6 L842.8 646.8 L844.5 646.3 M846.1 672.4 L846.6 673.7 L848.2 674.3 L848.5 675.7 L849.6 676.7 L848.8 678.6 L851.6 678.8 L851.0 680.6 L852.5 681.3 L852.2 683.3 L853.6 684.2 L854.3 685.5 L856.1 685.6 L855.9 687.7 L857.4 688.1 L858.0 689.5 L859.2 690.4 L860.2 691.5 L860.7 692.9 L861.4 694.1 L862.4 695.3 L863.0 696.8 L864.0 698.3 L863.2 700.1 L862.0 701.8 L860.0 701.8 L860.1 699.9 L858.4 699.3 L856.6 698.7 L856.7 696.9 L856.5 695.0 L854.1 694.9 L852.8 693.9 L852.6 692.0 L851.5 691.1 L849.8 690.9 L848.9 689.6 L847.7 688.7 L846.5 687.8 L844.6 687.8 L843.7 686.3 L844.1 685.0 L843.1 683.3 L844.5 682.2 L845.3 681.1 L846.3 680.2 L846.9 678.9 L845.6 677.8 L846.3 676.4 L845.2 675.2 L846.1 673.7 L846.1 672.4 M846.1 672.4 L846.1 674.1 L847.6 674.7 L848.5 675.7 L848.6 677.2 L849.1 678.4 L851.3 678.9 L851.0 680.6 L850.7 682.6 L852.1 683.4 L854.4 683.6 L854.3 685.5 L854.6 687.1 L856.4 687.2 L857.8 687.8 L857.3 690.3 L859.2 690.4 L859.8 691.7 L860.1 693.2 L862.4 693.5 L862.4 695.3 L861.9 697.0 L864.2 698.3 L863.2 700.1 L861.9 701.6 L860.0 701.8 L858.9 700.8 L857.2 700.1 L857.7 698.0 L856.7 696.9 L855.1 696.2 L854.2 694.8 L854.1 692.8 L852.6 692.0 L851.3 691.3 L850.8 689.5 L849.1 689.3 L847.7 688.7 L846.9 687.0 L845.1 686.9 L843.7 686.3 L845.1 685.2 L845.2 683.8 L844.5 682.2 L844.5 680.6 L846.7 680.4 L846.9 678.9 L846.3 677.7 L847.3 676.2 L846.9 675.0 L847.2 673.6 L846.1 672.4 M867.3 662.6 L868.7 661.2 L870.6 661.8 L872.0 662.1 L872.7 663.6 L873.7 664.8 L875.5 664.3 L876.9 665.4 L879.1 664.1 L880.4 665.9 L880.9 667.7 L882.0 669.2 L883.4 670.6 L882.4 672.4 L882.8 674.0 L882.0 675.7 M867.3 662.6 L869.1 663.0 L870.6 661.8 L872.3 661.5 L872.5 664.1 L874.0 664.1 L875.5 664.3 L877.3 664.1 L879.0 664.5 L880.4 665.9 L881.3 667.5 L882.0 669.2 L881.3 670.9 L882.3 672.5 L882.8 674.0 L882.0 675.7 M872.2 675.7 L873.8 677.0 L874.6 678.5 L873.8 680.6 L875.6 680.8 L875.2 683.1 L877.4 682.9 L877.6 684.6 L878.7 685.5 L880.2 685.8 L880.6 687.5 L882.2 687.6 L883.7 687.9 L883.5 690.4 L885.3 690.4 L886.4 691.3 L887.4 692.4 L888.4 693.5 L890.1 693.6 L890.7 695.5 L893.3 694.1 L894.1 695.7 L895.0 696.9 L896.7 695.9 L898.3 696.9 L899.9 696.9 M872.2 675.7 L871.8 677.6 L872.5 679.2 L873.8 680.6 L875.7 680.6 L876.4 681.9 L876.1 684.1 L877.4 684.8 L878.7 685.5 L880.0 686.0 L880.9 687.0 L882.6 687.1 L882.5 689.5 L884.3 689.3 L885.3 690.4 L885.9 692.0 L887.5 692.2 L889.6 691.8 L890.1 693.6 L891.6 694.0 L893.0 694.6 L893.2 697.0 L895.0 696.9 L896.7 697.1 L898.3 695.6 L899.9 696.9 M903.2 692.0 L904.9 692.4 L905.6 693.9 L906.5 695.3 L907.4 696.4 L907.9 697.8 L909.2 698.7 L909.7 700.1 L911.1 700.6 L912.7 700.7 L913.0 702.6 L913.6 703.9 L914.6 705.0 M903.2 692.0 L904.6 692.7 L906.3 693.2 L906.5 695.3 L907.4 696.4 L907.0 698.5 L910.0 698.2 L909.7 700.1 L911.4 700.2 L911.6 702.2 L913.0 702.6 L914.3 703.5 L914.6 705.0 M924.4 703.4 L925.9 702.4 L927.7 702.6 L929.3 703.1 L931.1 703.0 L932.6 704.2 L933.2 705.6 L934.2 706.7 L933.0 707.7 L931.1 707.9 L930.9 709.9 L929.1 710.5 L930.9 713.0 L928.9 713.5 L928.5 714.8 M924.4 703.4 L926.2 703.7 L927.7 702.6 L929.0 704.1 L930.7 704.4 L932.6 704.2 L933.1 705.7 L934.2 706.7 L932.8 707.5 L932.3 709.1 L930.9 709.9 L930.9 711.4 L929.0 712.0 L928.2 713.1 L928.5 714.8 M963.6 712.4 L965.4 712.5 L966.0 711.2 L966.8 709.9 L968.2 708.6 L970.1 708.3 L971.6 709.3 L973.2 709.5 L975.0 709.1 L976.6 709.4 L978.2 710.0 L979.9 709.9 L981.1 711.4 L981.5 713.2 M963.6 712.4 L964.7 711.7 L965.6 710.5 L966.8 709.9 L967.9 708.0 L970.1 708.3 L971.8 708.1 L973.4 708.4 L975.0 709.1 L976.4 710.7 L978.2 709.6 L979.9 709.9 L981.0 711.4 L981.5 713.2 M612.2 267.5 L612.2 265.9 L612.8 264.7 L613.7 263.6 L613.8 262.0 L615.3 261.2 L615.3 259.3 L617.9 260.1 L618.0 258.3 L619.0 257.4 L620.0 256.6 L621.3 255.7 L622.0 254.2 L622.9 252.9 L624.7 252.7 L626.4 251.6 L627.9 252.5 L629.4 252.7 L630.9 253.4 M612.2 267.5 L613.4 266.5 L613.6 265.1 L615.2 264.3 L614.3 262.3 L615.3 261.2 L617.1 261.1 L617.4 259.5 L617.3 257.6 L618.4 256.9 L620.0 256.6 L621.3 255.8 L623.2 255.7 L623.3 253.3 L624.7 252.7 L626.2 253.6 L627.8 252.8 L629.2 254.3 L630.9 253.4 M783.8 321.1 L783.8 319.3 L785.6 319.2 L787.4 319.1 L787.1 316.9 L788.4 316.4 L789.3 315.2 L790.2 314.0 L791.5 313.8 L793.1 314.1 L793.6 312.7 L795.4 312.6 L795.4 310.7 L796.7 310.1 L797.8 309.4 L797.8 307.8 L799.5 307.2 L800.9 306.4 L801.1 304.9 L800.8 303.1 L802.8 302.7 L804.0 301.9 L803.7 300.0 M783.8 321.1 L784.9 320.4 L784.8 318.4 L787.2 318.9 L788.2 318.1 L788.4 316.4 L789.4 315.4 L790.3 314.3 L791.6 313.9 L793.1 314.1 L794.1 313.2 L795.7 312.9 L796.2 311.5 L797.7 311.2 L797.8 309.4 L797.9 307.8 L798.9 306.8 L800.6 306.2 L801.1 304.9 L801.3 303.4 L802.6 302.6 L802.6 300.9 L803.7 300.0"/></g><path fill="#000" fill-opacity="0.75" d="M979.9 209.0 L982.4 209.9 L982.0 213.2 L980.3 214.8 L979.5 212.3Z M852.6 687.9 L857.5 689.5 L861.6 694.4 L862.7 700.1 L860.0 701.5 L856.7 696.9 L852.6 692.8Z"/><path fill="#000" fill-opacity="0.3" d="M534.8 245.6 L543.4 242.5 L549.7 247.2 L551.2 253.4 L546.6 256.6 L540.3 257.3 L535.6 255.0Z M557.5 258.1 L563.8 261.2 L570.0 265.9 L566.9 267.5 L560.6 265.2 L557.5 261.2Z"/></g>
<rect x="115.5" y="186.5" width="871" height="530" fill="none" stroke="#000" stroke-width="1"/>
<g stroke="#000" stroke-width="1" fill="none">
<path stroke-width="1.3" stroke="#333" d="M235 169V186M417.9 169V186M594.7 169V186M778.5 169V186M977.5 169V186"/>
<path stroke-width="1.3" stroke="#333" d="M98.5 272.9H115M98.5 372H115M98.5 470.8H115M98.5 569.7H115M98.5 669.8H115"/>
<path stroke-width="1.3" stroke="#333" d="M287.5 717V733.4M465 717V733.4M641.6 717V733.4M822.5 717V733.4"/>
<path stroke-width="1.3" stroke="#333" d="M987 234.2H1004M987 336.6H1004M987 438.1H1004M987 539.4H1004M987 640.5H1004"/>
</g>
<text x="80.3" y="282.7" class="ll">45°N</text>
<text x="80.3" y="381.8" class="ll">40°N</text>
<text x="80.3" y="480.7" class="ll">35°N</text>
<text x="80.3" y="579.5" class="ll">30°N</text>
<text x="80.3" y="679.5" class="ll">25°N</text>
<text x="287.3" y="762" class="bl">110°W</text>
<text x="465" y="762" class="bl">100°W</text>
<text x="641.2" y="762" class="bl">90°W</text>
<text x="822" y="762" class="bl">80°W</text>
<rect x="195.50" y="800.5" width="32.32" height="43.0" fill="#ffffff"/>
<rect x="227.82" y="800.5" width="32.32" height="43.0" fill="#dff2fc"/>
<rect x="260.14" y="800.5" width="32.32" height="43.0" fill="#bfe6f8"/>
<rect x="292.45" y="800.5" width="32.32" height="43.0" fill="#9fd9f6"/>
<rect x="324.77" y="800.5" width="32.32" height="43.0" fill="#80c1e8"/>
<rect x="357.09" y="800.5" width="32.32" height="43.0" fill="#67a9dc"/>
<rect x="389.41" y="800.5" width="32.32" height="43.0" fill="#4a8bc9"/>
<rect x="421.73" y="800.5" width="32.32" height="43.0" fill="#4a9a9a"/>
<rect x="454.05" y="800.5" width="32.32" height="43.0" fill="#4aa56f"/>
<rect x="486.36" y="800.5" width="32.32" height="43.0" fill="#4db649"/>
<rect x="518.68" y="800.5" width="32.32" height="43.0" fill="#84c650"/>
<rect x="551.00" y="800.5" width="32.32" height="43.0" fill="#c4d75a"/>
<rect x="583.32" y="800.5" width="32.32" height="43.0" fill="#f8e75a"/>
<rect x="615.64" y="800.5" width="32.32" height="43.0" fill="#f7be4c"/>
<rect x="647.95" y="800.5" width="32.32" height="43.0" fill="#f6973c"/>
<rect x="680.27" y="800.5" width="32.32" height="43.0" fill="#f36b29"/>
<rect x="712.59" y="800.5" width="32.32" height="43.0" fill="#e9532b"/>
<rect x="744.91" y="800.5" width="32.32" height="43.0" fill="#e03c2b"/>
<rect x="777.23" y="800.5" width="32.32" height="43.0" fill="#d4222d"/>
<rect x="809.55" y="800.5" width="32.32" height="43.0" fill="#c01d26"/>
<rect x="841.86" y="800.5" width="32.32" height="43.0" fill="#a81b22"/>
<rect x="874.18" y="800.5" width="32.32" height="43.0" fill="#8f1519"/>
<line x1="227.82" y1="800.5" x2="227.82" y2="843.5" stroke="#000" stroke-width="1"/>
<line x1="260.14" y1="800.5" x2="260.14" y2="843.5" stroke="#000" stroke-width="1"/>
<line x1="292.45" y1="800.5" x2="292.45" y2="843.5" stroke="#000" stroke-width="1"/>
<line x1="324.77" y1="800.5" x2="324.77" y2="843.5" stroke="#000" stroke-width="1"/>
<line x1="357.09" y1="800.5" x2="357.09" y2="843.5" stroke="#000" stroke-width="1"/>
<line x1="389.41" y1="800.5" x2="389.41" y2="843.5" stroke="#000" stroke-width="1"/>
<line x1="421.73" y1="800.5" x2="421.73" y2="843.5" stroke="#000" stroke-width="1"/>
<line x1="454.05" y1="800.5" x2="454.05" y2="843.5" stroke="#000" stroke-width="1"/>
<line x1="486.36" y1="800.5" x2="486.36" y2="843.5" stroke="#000" stroke-width="1"/>
<line x1="518.68" y1="800.5" x2="518.68" y2="843.5" stroke="#000" stroke-width="1"/>
<line x1="551.00" y1="800.5" x2="551.00" y2="843.5" stroke="#000" stroke-width="1"/>
<line x1="583.32" y1="800.5" x2="583.32" y2="843.5" stroke="#000" stroke-width="1"/>
<line x1="615.64" y1="800.5" x2="615.64" y2="843.5" stroke="#000" stroke-width="1"/>
<line x1="647.95" y1="800.5" x2="647.95" y2="843.5" stroke="#000" stroke-width="1"/>
<line x1="680.27" y1="800.5" x2="680.27" y2="843.5" stroke="#000" stroke-width="1"/>
<line x1="712.59" y1="800.5" x2="712.59" y2="843.5" stroke="#000" stroke-width="1"/>
<line x1="744.91" y1="800.5" x2="744.91" y2="843.5" stroke="#000" stroke-width="1"/>
<line x1="777.23" y1="800.5" x2="777.23" y2="843.5" stroke="#000" stroke-width="1"/>
<line x1="809.55" y1="800.5" x2="809.55" y2="843.5" stroke="#000" stroke-width="1"/>
<line x1="841.86" y1="800.5" x2="841.86" y2="843.5" stroke="#000" stroke-width="1"/>
<line x1="874.18" y1="800.5" x2="874.18" y2="843.5" stroke="#000" stroke-width="1"/>
<rect x="195.5" y="800.5" width="711.0" height="43.0" fill="none" stroke="#000" stroke-width="1"/>
<text x="227.82" y="870" class="cl">0</text>
<text x="260.14" y="870" class="cl">0.2</text>
<text x="292.45" y="870" class="cl">0.4</text>
<text x="324.77" y="870" class="cl">0.6</text>
<text x="357.09" y="870" class="cl">0.8</text>
<text x="389.41" y="870" class="cl">1</text>
<text x="421.73" y="870" class="cl">1.2</text>
<text x="454.05" y="870" class="cl">1.4</text>
<text x="486.36" y="870" class="cl">1.6</text>
<text x="518.68" y="870" class="cl">1.8</text>
<text x="551.00" y="870" class="cl">2</text>
<text x="583.32" y="870" class="cl">2.2</text>
<text x="615.64" y="870" class="cl">2.4</text>
<text x="647.95" y="870" class="cl">2.6</text>
<text x="680.27" y="870" class="cl">2.8</text>
<text x="712.59" y="870" class="cl">3</text>
<text x="744.91" y="870" class="cl">3.2</text>
<text x="777.23" y="870" class="cl">3.4</text>
<text x="809.55" y="870" class="cl">3.6</text>
<text x="841.86" y="870" class="cl">3.8</text>
<text x="874.18" y="870" class="cl">4</text>
</svg>
</body></html>
